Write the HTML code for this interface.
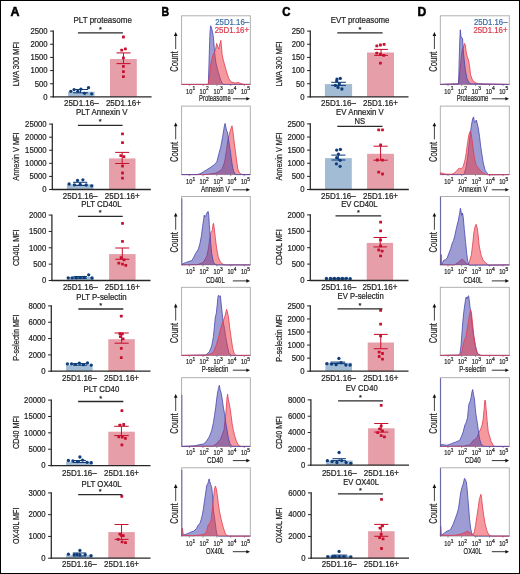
<!DOCTYPE html><html><head><meta charset="utf-8"><style>html,body{margin:0;padding:0;background:#fff;}svg{display:block;will-change:transform;}text{font-family:"Liberation Sans",sans-serif;stroke:currentColor;stroke-width:0.22px;}</style></head><body>
<svg width="520" height="574" viewBox="0 0 520 574">
<rect x="0" y="0" width="520" height="574" fill="#fff"/>
<line x1="50.10" y1="96.90" x2="53.30" y2="96.90" stroke="#222" stroke-width="1.0" />
<text x="47.60" y="99.70" font-size="8.6" text-anchor="end" fill="#1e1e1e" color="#1e1e1e" textLength="4.30" lengthAdjust="spacingAndGlyphs" >0</text>
<line x1="50.10" y1="83.74" x2="53.30" y2="83.74" stroke="#222" stroke-width="1.0" />
<text x="47.60" y="86.54" font-size="8.6" text-anchor="end" fill="#1e1e1e" color="#1e1e1e" textLength="12.90" lengthAdjust="spacingAndGlyphs" >500</text>
<line x1="50.10" y1="70.58" x2="53.30" y2="70.58" stroke="#222" stroke-width="1.0" />
<text x="47.60" y="73.38" font-size="8.6" text-anchor="end" fill="#1e1e1e" color="#1e1e1e" textLength="17.20" lengthAdjust="spacingAndGlyphs" >1000</text>
<line x1="50.10" y1="57.42" x2="53.30" y2="57.42" stroke="#222" stroke-width="1.0" />
<text x="47.60" y="60.22" font-size="8.6" text-anchor="end" fill="#1e1e1e" color="#1e1e1e" textLength="17.20" lengthAdjust="spacingAndGlyphs" >1500</text>
<line x1="50.10" y1="44.26" x2="53.30" y2="44.26" stroke="#222" stroke-width="1.0" />
<text x="47.60" y="47.06" font-size="8.6" text-anchor="end" fill="#1e1e1e" color="#1e1e1e" textLength="17.20" lengthAdjust="spacingAndGlyphs" >2000</text>
<line x1="50.10" y1="31.10" x2="53.30" y2="31.10" stroke="#222" stroke-width="1.0" />
<text x="47.60" y="33.90" font-size="8.6" text-anchor="end" fill="#1e1e1e" color="#1e1e1e" textLength="17.20" lengthAdjust="spacingAndGlyphs" >2500</text>
<rect x="68.10" y="91.70" width="26.50" height="5.20" fill="#a3bcd6"/>
<rect x="110.00" y="59.00" width="26.80" height="37.90" fill="#e69ea9"/>
<line x1="80.50" y1="89.50" x2="80.50" y2="92.80" stroke="#0f3d7a" stroke-width="1.0" />
<line x1="73.00" y1="89.50" x2="88.00" y2="89.50" stroke="#0f3d7a" stroke-width="1.05" />
<line x1="73.00" y1="92.80" x2="88.00" y2="92.80" stroke="#0f3d7a" stroke-width="1.05" />
<line x1="123.50" y1="52.90" x2="123.50" y2="63.60" stroke="#c8102e" stroke-width="1.0" />
<line x1="116.50" y1="52.90" x2="130.50" y2="52.90" stroke="#c8102e" stroke-width="1.05" />
<line x1="116.50" y1="63.60" x2="130.50" y2="63.60" stroke="#c8102e" stroke-width="1.05" />
<circle cx="70.80" cy="91.30" r="1.65" fill="#0f3d7a"/>
<circle cx="74.10" cy="89.60" r="1.65" fill="#0f3d7a"/>
<circle cx="77.80" cy="91.30" r="1.65" fill="#0f3d7a"/>
<circle cx="80.90" cy="89.10" r="1.65" fill="#0f3d7a"/>
<circle cx="84.60" cy="93.30" r="1.65" fill="#0f3d7a"/>
<circle cx="88.50" cy="87.70" r="1.65" fill="#0f3d7a"/>
<circle cx="91.70" cy="93.80" r="1.65" fill="#0f3d7a"/>
<rect x="122.00" y="35.60" width="2.8" height="2.8" rx="0.55" fill="#c8102e"/>
<rect x="120.30" y="48.70" width="2.8" height="2.8" rx="0.55" fill="#c8102e"/>
<rect x="124.00" y="47.50" width="2.8" height="2.8" rx="0.55" fill="#c8102e"/>
<rect x="122.00" y="56.40" width="2.8" height="2.8" rx="0.55" fill="#c8102e"/>
<rect x="122.00" y="64.90" width="2.8" height="2.8" rx="0.55" fill="#c8102e"/>
<rect x="122.00" y="70.30" width="2.8" height="2.8" rx="0.55" fill="#c8102e"/>
<rect x="122.00" y="75.20" width="2.8" height="2.8" rx="0.55" fill="#c8102e"/>
<line x1="53.30" y1="30.50" x2="53.30" y2="97.50" stroke="#262626" stroke-width="1.25" />
<line x1="52.70" y1="96.90" x2="151.60" y2="96.90" stroke="#262626" stroke-width="1.3" />
<line x1="77.90" y1="32.80" x2="122.90" y2="32.80" stroke="#2a2a2a" stroke-width="1.3" />
<text x="100.40" y="31.90" font-size="7.4" text-anchor="middle" fill="#1e1e1e" color="#1e1e1e" >*</text>
<text x="102.70" y="23.10" font-size="8.8" text-anchor="middle" fill="#1e1e1e" color="#1e1e1e" textLength="58.30" lengthAdjust="spacingAndGlyphs" >PLT proteasome</text>
<text x="81.35" y="105.70" font-size="9.0" text-anchor="middle" fill="#1e1e1e" color="#1e1e1e" textLength="34.80" lengthAdjust="spacingAndGlyphs" >25D1.16–</text>
<text x="123.40" y="105.70" font-size="9.0" text-anchor="middle" fill="#1e1e1e" color="#1e1e1e" textLength="35.00" lengthAdjust="spacingAndGlyphs" >25D1.16+</text>
<text x="19.10" y="64.00" font-size="9.3" text-anchor="middle" fill="#1e1e1e" color="#1e1e1e" textLength="44.40" lengthAdjust="spacingAndGlyphs" transform="rotate(-90 19.10 64.00)" >LWA 300 MFI</text>
<line x1="49.10" y1="189.50" x2="52.30" y2="189.50" stroke="#222" stroke-width="1.0" />
<text x="46.60" y="192.30" font-size="8.6" text-anchor="end" fill="#1e1e1e" color="#1e1e1e" textLength="4.30" lengthAdjust="spacingAndGlyphs" >0</text>
<line x1="49.10" y1="176.42" x2="52.30" y2="176.42" stroke="#222" stroke-width="1.0" />
<text x="46.60" y="179.22" font-size="8.6" text-anchor="end" fill="#1e1e1e" color="#1e1e1e" textLength="17.20" lengthAdjust="spacingAndGlyphs" >5000</text>
<line x1="49.10" y1="163.34" x2="52.30" y2="163.34" stroke="#222" stroke-width="1.0" />
<text x="46.60" y="166.14" font-size="8.6" text-anchor="end" fill="#1e1e1e" color="#1e1e1e" textLength="21.50" lengthAdjust="spacingAndGlyphs" >10000</text>
<line x1="49.10" y1="150.26" x2="52.30" y2="150.26" stroke="#222" stroke-width="1.0" />
<text x="46.60" y="153.06" font-size="8.6" text-anchor="end" fill="#1e1e1e" color="#1e1e1e" textLength="21.50" lengthAdjust="spacingAndGlyphs" >15000</text>
<line x1="49.10" y1="137.18" x2="52.30" y2="137.18" stroke="#222" stroke-width="1.0" />
<text x="46.60" y="139.98" font-size="8.6" text-anchor="end" fill="#1e1e1e" color="#1e1e1e" textLength="21.50" lengthAdjust="spacingAndGlyphs" >20000</text>
<line x1="49.10" y1="124.10" x2="52.30" y2="124.10" stroke="#222" stroke-width="1.0" />
<text x="46.60" y="126.90" font-size="8.6" text-anchor="end" fill="#1e1e1e" color="#1e1e1e" textLength="21.50" lengthAdjust="spacingAndGlyphs" >25000</text>
<rect x="66.90" y="184.30" width="26.60" height="5.20" fill="#a3bcd6"/>
<rect x="109.00" y="158.40" width="26.50" height="31.10" fill="#e69ea9"/>
<line x1="80.15" y1="182.30" x2="80.15" y2="185.50" stroke="#0f3d7a" stroke-width="1.0" />
<line x1="73.00" y1="182.30" x2="87.30" y2="182.30" stroke="#0f3d7a" stroke-width="1.05" />
<line x1="73.00" y1="185.50" x2="87.30" y2="185.50" stroke="#0f3d7a" stroke-width="1.05" />
<line x1="122.20" y1="152.40" x2="122.20" y2="163.50" stroke="#c8102e" stroke-width="1.0" />
<line x1="115.20" y1="152.40" x2="129.20" y2="152.40" stroke="#c8102e" stroke-width="1.05" />
<line x1="115.20" y1="163.50" x2="129.20" y2="163.50" stroke="#c8102e" stroke-width="1.05" />
<circle cx="69.10" cy="184.00" r="1.65" fill="#0f3d7a"/>
<circle cx="74.50" cy="184.80" r="1.65" fill="#0f3d7a"/>
<circle cx="77.50" cy="180.40" r="1.65" fill="#0f3d7a"/>
<circle cx="80.20" cy="184.50" r="1.65" fill="#0f3d7a"/>
<circle cx="82.90" cy="179.80" r="1.65" fill="#0f3d7a"/>
<circle cx="86.20" cy="185.00" r="1.65" fill="#0f3d7a"/>
<circle cx="91.70" cy="185.80" r="1.65" fill="#0f3d7a"/>
<rect x="121.10" y="132.40" width="2.8" height="2.8" rx="0.55" fill="#c8102e"/>
<rect x="121.10" y="141.30" width="2.8" height="2.8" rx="0.55" fill="#c8102e"/>
<rect x="119.40" y="154.20" width="2.8" height="2.8" rx="0.55" fill="#c8102e"/>
<rect x="122.50" y="155.30" width="2.8" height="2.8" rx="0.55" fill="#c8102e"/>
<rect x="121.10" y="164.60" width="2.8" height="2.8" rx="0.55" fill="#c8102e"/>
<rect x="121.10" y="171.60" width="2.8" height="2.8" rx="0.55" fill="#c8102e"/>
<rect x="121.10" y="176.70" width="2.8" height="2.8" rx="0.55" fill="#c8102e"/>
<line x1="52.30" y1="123.50" x2="52.30" y2="190.10" stroke="#262626" stroke-width="1.25" />
<line x1="51.70" y1="189.50" x2="150.80" y2="189.50" stroke="#262626" stroke-width="1.3" />
<line x1="77.90" y1="125.35" x2="122.60" y2="125.35" stroke="#2a2a2a" stroke-width="1.3" />
<text x="100.25" y="124.45" font-size="7.4" text-anchor="middle" fill="#1e1e1e" color="#1e1e1e" >*</text>
<text x="101.80" y="114.90" font-size="8.8" text-anchor="middle" fill="#1e1e1e" color="#1e1e1e" textLength="51.60" lengthAdjust="spacingAndGlyphs" >PLT Annexin V</text>
<text x="80.20" y="198.50" font-size="9.0" text-anchor="middle" fill="#1e1e1e" color="#1e1e1e" textLength="34.80" lengthAdjust="spacingAndGlyphs" >25D1.16–</text>
<text x="122.25" y="198.50" font-size="9.0" text-anchor="middle" fill="#1e1e1e" color="#1e1e1e" textLength="35.00" lengthAdjust="spacingAndGlyphs" >25D1.16+</text>
<text x="19.10" y="156.60" font-size="9.3" text-anchor="middle" fill="#1e1e1e" color="#1e1e1e" textLength="48.40" lengthAdjust="spacingAndGlyphs" transform="rotate(-90 19.10 156.60)" >Annexin V MFI</text>
<line x1="48.70" y1="280.50" x2="51.90" y2="280.50" stroke="#222" stroke-width="1.0" />
<text x="46.20" y="283.30" font-size="8.6" text-anchor="end" fill="#1e1e1e" color="#1e1e1e" textLength="4.30" lengthAdjust="spacingAndGlyphs" >0</text>
<line x1="48.70" y1="264.15" x2="51.90" y2="264.15" stroke="#222" stroke-width="1.0" />
<text x="46.20" y="266.95" font-size="8.6" text-anchor="end" fill="#1e1e1e" color="#1e1e1e" textLength="12.90" lengthAdjust="spacingAndGlyphs" >500</text>
<line x1="48.70" y1="247.80" x2="51.90" y2="247.80" stroke="#222" stroke-width="1.0" />
<text x="46.20" y="250.60" font-size="8.6" text-anchor="end" fill="#1e1e1e" color="#1e1e1e" textLength="17.20" lengthAdjust="spacingAndGlyphs" >1000</text>
<line x1="48.70" y1="231.45" x2="51.90" y2="231.45" stroke="#222" stroke-width="1.0" />
<text x="46.20" y="234.25" font-size="8.6" text-anchor="end" fill="#1e1e1e" color="#1e1e1e" textLength="17.20" lengthAdjust="spacingAndGlyphs" >1500</text>
<line x1="48.70" y1="215.10" x2="51.90" y2="215.10" stroke="#222" stroke-width="1.0" />
<text x="46.20" y="217.90" font-size="8.6" text-anchor="end" fill="#1e1e1e" color="#1e1e1e" textLength="17.20" lengthAdjust="spacingAndGlyphs" >2000</text>
<rect x="67.00" y="277.00" width="26.60" height="3.50" fill="#a3bcd6"/>
<rect x="109.10" y="254.10" width="26.50" height="26.40" fill="#e69ea9"/>
<line x1="80.25" y1="276.50" x2="80.25" y2="278.30" stroke="#0f3d7a" stroke-width="1.0" />
<line x1="73.50" y1="276.50" x2="87.00" y2="276.50" stroke="#0f3d7a" stroke-width="1.05" />
<line x1="73.50" y1="278.30" x2="87.00" y2="278.30" stroke="#0f3d7a" stroke-width="1.05" />
<line x1="122.30" y1="248.00" x2="122.30" y2="259.30" stroke="#c8102e" stroke-width="1.0" />
<line x1="115.30" y1="248.00" x2="129.30" y2="248.00" stroke="#c8102e" stroke-width="1.05" />
<line x1="115.30" y1="259.30" x2="129.30" y2="259.30" stroke="#c8102e" stroke-width="1.05" />
<circle cx="68.20" cy="277.80" r="1.65" fill="#0f3d7a"/>
<circle cx="72.20" cy="277.80" r="1.65" fill="#0f3d7a"/>
<circle cx="76.20" cy="277.80" r="1.65" fill="#0f3d7a"/>
<circle cx="80.20" cy="277.60" r="1.65" fill="#0f3d7a"/>
<circle cx="84.20" cy="277.50" r="1.65" fill="#0f3d7a"/>
<circle cx="88.70" cy="274.80" r="1.65" fill="#0f3d7a"/>
<circle cx="92.00" cy="278.00" r="1.65" fill="#0f3d7a"/>
<rect x="121.10" y="222.00" width="2.8" height="2.8" rx="0.55" fill="#c8102e"/>
<rect x="121.10" y="239.90" width="2.8" height="2.8" rx="0.55" fill="#c8102e"/>
<rect x="119.70" y="256.20" width="2.8" height="2.8" rx="0.55" fill="#c8102e"/>
<rect x="122.60" y="258.50" width="2.8" height="2.8" rx="0.55" fill="#c8102e"/>
<rect x="117.40" y="261.70" width="2.8" height="2.8" rx="0.55" fill="#c8102e"/>
<rect x="121.10" y="262.80" width="2.8" height="2.8" rx="0.55" fill="#c8102e"/>
<rect x="124.40" y="264.00" width="2.8" height="2.8" rx="0.55" fill="#c8102e"/>
<line x1="51.90" y1="214.50" x2="51.90" y2="281.10" stroke="#262626" stroke-width="1.25" />
<line x1="51.30" y1="280.50" x2="150.50" y2="280.50" stroke="#262626" stroke-width="1.3" />
<line x1="77.90" y1="216.35" x2="122.70" y2="216.35" stroke="#2a2a2a" stroke-width="1.3" />
<text x="100.30" y="215.45" font-size="7.4" text-anchor="middle" fill="#1e1e1e" color="#1e1e1e" >*</text>
<text x="101.40" y="207.20" font-size="8.8" text-anchor="middle" fill="#1e1e1e" color="#1e1e1e" textLength="40.40" lengthAdjust="spacingAndGlyphs" >PLT CD40L</text>
<text x="80.30" y="289.70" font-size="9.0" text-anchor="middle" fill="#1e1e1e" color="#1e1e1e" textLength="34.80" lengthAdjust="spacingAndGlyphs" >25D1.16–</text>
<text x="122.35" y="289.70" font-size="9.0" text-anchor="middle" fill="#1e1e1e" color="#1e1e1e" textLength="35.00" lengthAdjust="spacingAndGlyphs" >25D1.16+</text>
<text x="19.10" y="247.70" font-size="9.3" text-anchor="middle" fill="#1e1e1e" color="#1e1e1e" textLength="36.60" lengthAdjust="spacingAndGlyphs" transform="rotate(-90 19.10 247.70)" >CD40L MFI</text>
<line x1="48.10" y1="371.20" x2="51.30" y2="371.20" stroke="#222" stroke-width="1.0" />
<text x="45.60" y="374.00" font-size="8.6" text-anchor="end" fill="#1e1e1e" color="#1e1e1e" textLength="4.30" lengthAdjust="spacingAndGlyphs" >0</text>
<line x1="48.10" y1="354.88" x2="51.30" y2="354.88" stroke="#222" stroke-width="1.0" />
<text x="45.60" y="357.68" font-size="8.6" text-anchor="end" fill="#1e1e1e" color="#1e1e1e" textLength="17.20" lengthAdjust="spacingAndGlyphs" >2000</text>
<line x1="48.10" y1="338.55" x2="51.30" y2="338.55" stroke="#222" stroke-width="1.0" />
<text x="45.60" y="341.35" font-size="8.6" text-anchor="end" fill="#1e1e1e" color="#1e1e1e" textLength="17.20" lengthAdjust="spacingAndGlyphs" >4000</text>
<line x1="48.10" y1="322.22" x2="51.30" y2="322.22" stroke="#222" stroke-width="1.0" />
<text x="45.60" y="325.02" font-size="8.6" text-anchor="end" fill="#1e1e1e" color="#1e1e1e" textLength="17.20" lengthAdjust="spacingAndGlyphs" >6000</text>
<line x1="48.10" y1="305.90" x2="51.30" y2="305.90" stroke="#222" stroke-width="1.0" />
<text x="45.60" y="308.70" font-size="8.6" text-anchor="end" fill="#1e1e1e" color="#1e1e1e" textLength="17.20" lengthAdjust="spacingAndGlyphs" >8000</text>
<rect x="66.10" y="364.80" width="26.60" height="6.40" fill="#a3bcd6"/>
<rect x="108.30" y="339.20" width="26.50" height="32.00" fill="#e69ea9"/>
<line x1="80.00" y1="363.60" x2="80.00" y2="365.20" stroke="#0f3d7a" stroke-width="1.0" />
<line x1="73.00" y1="363.60" x2="87.00" y2="363.60" stroke="#0f3d7a" stroke-width="1.05" />
<line x1="73.00" y1="365.20" x2="87.00" y2="365.20" stroke="#0f3d7a" stroke-width="1.05" />
<line x1="121.65" y1="333.00" x2="121.65" y2="343.20" stroke="#c8102e" stroke-width="1.0" />
<line x1="114.60" y1="333.00" x2="128.70" y2="333.00" stroke="#c8102e" stroke-width="1.05" />
<line x1="114.60" y1="343.20" x2="128.70" y2="343.20" stroke="#c8102e" stroke-width="1.05" />
<circle cx="67.40" cy="363.80" r="1.65" fill="#0f3d7a"/>
<circle cx="71.50" cy="363.80" r="1.65" fill="#0f3d7a"/>
<circle cx="75.30" cy="364.30" r="1.65" fill="#0f3d7a"/>
<circle cx="79.30" cy="363.10" r="1.65" fill="#0f3d7a"/>
<circle cx="83.40" cy="364.70" r="1.65" fill="#0f3d7a"/>
<circle cx="87.50" cy="363.00" r="1.65" fill="#0f3d7a"/>
<circle cx="91.20" cy="365.10" r="1.65" fill="#0f3d7a"/>
<rect x="119.90" y="314.70" width="2.8" height="2.8" rx="0.55" fill="#c8102e"/>
<rect x="118.50" y="332.20" width="2.8" height="2.8" rx="0.55" fill="#c8102e"/>
<rect x="120.90" y="332.50" width="2.8" height="2.8" rx="0.55" fill="#c8102e"/>
<rect x="119.00" y="335.30" width="2.8" height="2.8" rx="0.55" fill="#c8102e"/>
<rect x="121.70" y="337.40" width="2.8" height="2.8" rx="0.55" fill="#c8102e"/>
<rect x="119.90" y="347.00" width="2.8" height="2.8" rx="0.55" fill="#c8102e"/>
<rect x="119.90" y="356.30" width="2.8" height="2.8" rx="0.55" fill="#c8102e"/>
<line x1="51.30" y1="305.30" x2="51.30" y2="371.80" stroke="#262626" stroke-width="1.25" />
<line x1="50.70" y1="371.20" x2="150.50" y2="371.20" stroke="#262626" stroke-width="1.3" />
<line x1="78.30" y1="309.00" x2="123.30" y2="309.00" stroke="#2a2a2a" stroke-width="1.3" />
<text x="100.80" y="308.10" font-size="7.4" text-anchor="middle" fill="#1e1e1e" color="#1e1e1e" >*</text>
<text x="101.40" y="299.70" font-size="8.8" text-anchor="middle" fill="#1e1e1e" color="#1e1e1e" textLength="50.30" lengthAdjust="spacingAndGlyphs" >PLT P-selectin</text>
<text x="79.40" y="381.10" font-size="9.0" text-anchor="middle" fill="#1e1e1e" color="#1e1e1e" textLength="34.80" lengthAdjust="spacingAndGlyphs" >25D1.16–</text>
<text x="121.55" y="381.10" font-size="9.0" text-anchor="middle" fill="#1e1e1e" color="#1e1e1e" textLength="35.00" lengthAdjust="spacingAndGlyphs" >25D1.16+</text>
<text x="19.10" y="337.70" font-size="9.3" text-anchor="middle" fill="#1e1e1e" color="#1e1e1e" textLength="46.20" lengthAdjust="spacingAndGlyphs" transform="rotate(-90 19.10 337.70)" >P-selectin MFI</text>
<line x1="48.10" y1="465.60" x2="51.30" y2="465.60" stroke="#222" stroke-width="1.0" />
<text x="45.60" y="468.40" font-size="8.6" text-anchor="end" fill="#1e1e1e" color="#1e1e1e" textLength="4.30" lengthAdjust="spacingAndGlyphs" >0</text>
<line x1="48.10" y1="449.23" x2="51.30" y2="449.23" stroke="#222" stroke-width="1.0" />
<text x="45.60" y="452.03" font-size="8.6" text-anchor="end" fill="#1e1e1e" color="#1e1e1e" textLength="17.20" lengthAdjust="spacingAndGlyphs" >5000</text>
<line x1="48.10" y1="432.85" x2="51.30" y2="432.85" stroke="#222" stroke-width="1.0" />
<text x="45.60" y="435.65" font-size="8.6" text-anchor="end" fill="#1e1e1e" color="#1e1e1e" textLength="21.50" lengthAdjust="spacingAndGlyphs" >10000</text>
<line x1="48.10" y1="416.48" x2="51.30" y2="416.48" stroke="#222" stroke-width="1.0" />
<text x="45.60" y="419.28" font-size="8.6" text-anchor="end" fill="#1e1e1e" color="#1e1e1e" textLength="21.50" lengthAdjust="spacingAndGlyphs" >15000</text>
<line x1="48.10" y1="400.10" x2="51.30" y2="400.10" stroke="#222" stroke-width="1.0" />
<text x="45.60" y="402.90" font-size="8.6" text-anchor="end" fill="#1e1e1e" color="#1e1e1e" textLength="21.50" lengthAdjust="spacingAndGlyphs" >20000</text>
<rect x="66.10" y="461.70" width="26.60" height="3.90" fill="#a3bcd6"/>
<rect x="108.30" y="431.70" width="26.50" height="33.90" fill="#e69ea9"/>
<line x1="79.35" y1="460.50" x2="79.35" y2="462.50" stroke="#0f3d7a" stroke-width="1.0" />
<line x1="72.80" y1="460.50" x2="85.90" y2="460.50" stroke="#0f3d7a" stroke-width="1.05" />
<line x1="72.80" y1="462.50" x2="85.90" y2="462.50" stroke="#0f3d7a" stroke-width="1.05" />
<line x1="121.45" y1="426.30" x2="121.45" y2="435.60" stroke="#c8102e" stroke-width="1.0" />
<line x1="114.20" y1="426.30" x2="128.70" y2="426.30" stroke="#c8102e" stroke-width="1.05" />
<line x1="114.20" y1="435.60" x2="128.70" y2="435.60" stroke="#c8102e" stroke-width="1.05" />
<circle cx="68.40" cy="460.50" r="1.65" fill="#0f3d7a"/>
<circle cx="72.90" cy="460.90" r="1.65" fill="#0f3d7a"/>
<circle cx="77.50" cy="461.70" r="1.65" fill="#0f3d7a"/>
<circle cx="79.90" cy="457.00" r="1.65" fill="#0f3d7a"/>
<circle cx="82.60" cy="460.10" r="1.65" fill="#0f3d7a"/>
<circle cx="87.10" cy="462.30" r="1.65" fill="#0f3d7a"/>
<circle cx="91.20" cy="462.70" r="1.65" fill="#0f3d7a"/>
<rect x="120.50" y="409.30" width="2.8" height="2.8" rx="0.55" fill="#c8102e"/>
<rect x="118.50" y="423.70" width="2.8" height="2.8" rx="0.55" fill="#c8102e"/>
<rect x="122.30" y="423.10" width="2.8" height="2.8" rx="0.55" fill="#c8102e"/>
<rect x="117.40" y="435.40" width="2.8" height="2.8" rx="0.55" fill="#c8102e"/>
<rect x="120.90" y="435.70" width="2.8" height="2.8" rx="0.55" fill="#c8102e"/>
<rect x="124.00" y="436.90" width="2.8" height="2.8" rx="0.55" fill="#c8102e"/>
<rect x="120.50" y="443.50" width="2.8" height="2.8" rx="0.55" fill="#c8102e"/>
<line x1="51.30" y1="399.50" x2="51.30" y2="466.20" stroke="#262626" stroke-width="1.25" />
<line x1="50.70" y1="465.60" x2="150.50" y2="465.60" stroke="#262626" stroke-width="1.3" />
<line x1="78.10" y1="401.50" x2="123.35" y2="401.50" stroke="#2a2a2a" stroke-width="1.3" />
<text x="100.72" y="400.60" font-size="7.4" text-anchor="middle" fill="#1e1e1e" color="#1e1e1e" >*</text>
<text x="101.40" y="391.60" font-size="8.8" text-anchor="middle" fill="#1e1e1e" color="#1e1e1e" textLength="35.80" lengthAdjust="spacingAndGlyphs" >PLT CD40</text>
<text x="79.40" y="476.40" font-size="9.0" text-anchor="middle" fill="#1e1e1e" color="#1e1e1e" textLength="34.80" lengthAdjust="spacingAndGlyphs" >25D1.16–</text>
<text x="121.55" y="476.40" font-size="9.0" text-anchor="middle" fill="#1e1e1e" color="#1e1e1e" textLength="35.00" lengthAdjust="spacingAndGlyphs" >25D1.16+</text>
<text x="19.10" y="432.50" font-size="9.3" text-anchor="middle" fill="#1e1e1e" color="#1e1e1e" textLength="33.00" lengthAdjust="spacingAndGlyphs" transform="rotate(-90 19.10 432.50)" >CD40 MFI</text>
<line x1="48.10" y1="558.20" x2="51.30" y2="558.20" stroke="#222" stroke-width="1.0" />
<text x="45.60" y="561.00" font-size="8.6" text-anchor="end" fill="#1e1e1e" color="#1e1e1e" textLength="4.30" lengthAdjust="spacingAndGlyphs" >0</text>
<line x1="48.10" y1="536.43" x2="51.30" y2="536.43" stroke="#222" stroke-width="1.0" />
<text x="45.60" y="539.23" font-size="8.6" text-anchor="end" fill="#1e1e1e" color="#1e1e1e" textLength="17.20" lengthAdjust="spacingAndGlyphs" >1000</text>
<line x1="48.10" y1="514.67" x2="51.30" y2="514.67" stroke="#222" stroke-width="1.0" />
<text x="45.60" y="517.47" font-size="8.6" text-anchor="end" fill="#1e1e1e" color="#1e1e1e" textLength="17.20" lengthAdjust="spacingAndGlyphs" >2000</text>
<line x1="48.10" y1="492.90" x2="51.30" y2="492.90" stroke="#222" stroke-width="1.0" />
<text x="45.60" y="495.70" font-size="8.6" text-anchor="end" fill="#1e1e1e" color="#1e1e1e" textLength="17.20" lengthAdjust="spacingAndGlyphs" >3000</text>
<rect x="66.10" y="555.30" width="26.60" height="2.90" fill="#a3bcd6"/>
<rect x="108.30" y="532.10" width="26.50" height="26.10" fill="#e69ea9"/>
<line x1="79.50" y1="553.00" x2="79.50" y2="556.00" stroke="#0f3d7a" stroke-width="1.0" />
<line x1="72.80" y1="553.00" x2="86.20" y2="553.00" stroke="#0f3d7a" stroke-width="1.05" />
<line x1="72.80" y1="556.00" x2="86.20" y2="556.00" stroke="#0f3d7a" stroke-width="1.05" />
<line x1="121.55" y1="524.50" x2="121.55" y2="539.40" stroke="#c8102e" stroke-width="1.0" />
<line x1="114.60" y1="524.50" x2="128.50" y2="524.50" stroke="#c8102e" stroke-width="1.05" />
<line x1="114.60" y1="539.40" x2="128.50" y2="539.40" stroke="#c8102e" stroke-width="1.05" />
<circle cx="68.40" cy="554.20" r="1.65" fill="#0f3d7a"/>
<circle cx="74.20" cy="554.70" r="1.65" fill="#0f3d7a"/>
<circle cx="79.90" cy="550.40" r="1.65" fill="#0f3d7a"/>
<circle cx="79.90" cy="555.00" r="1.65" fill="#0f3d7a"/>
<circle cx="85.20" cy="554.60" r="1.65" fill="#0f3d7a"/>
<circle cx="91.00" cy="555.70" r="1.65" fill="#0f3d7a"/>
<circle cx="77.00" cy="554.50" r="1.65" fill="#0f3d7a"/>
<rect x="120.40" y="494.90" width="2.8" height="2.8" rx="0.55" fill="#c8102e"/>
<rect x="118.50" y="532.70" width="2.8" height="2.8" rx="0.55" fill="#c8102e"/>
<rect x="121.90" y="534.30" width="2.8" height="2.8" rx="0.55" fill="#c8102e"/>
<rect x="116.80" y="538.00" width="2.8" height="2.8" rx="0.55" fill="#c8102e"/>
<rect x="120.70" y="540.40" width="2.8" height="2.8" rx="0.55" fill="#c8102e"/>
<rect x="124.10" y="541.30" width="2.8" height="2.8" rx="0.55" fill="#c8102e"/>
<rect x="120.10" y="534.10" width="2.8" height="2.8" rx="0.55" fill="#c8102e"/>
<line x1="51.30" y1="492.30" x2="51.30" y2="558.80" stroke="#262626" stroke-width="1.25" />
<line x1="50.70" y1="558.20" x2="150.50" y2="558.20" stroke="#262626" stroke-width="1.3" />
<line x1="78.20" y1="494.60" x2="122.30" y2="494.60" stroke="#2a2a2a" stroke-width="1.3" />
<text x="100.25" y="493.70" font-size="7.4" text-anchor="middle" fill="#1e1e1e" color="#1e1e1e" >*</text>
<text x="101.60" y="487.20" font-size="8.8" text-anchor="middle" fill="#1e1e1e" color="#1e1e1e" textLength="40.00" lengthAdjust="spacingAndGlyphs" >PLT OX40L</text>
<text x="79.40" y="566.90" font-size="9.0" text-anchor="middle" fill="#1e1e1e" color="#1e1e1e" textLength="34.80" lengthAdjust="spacingAndGlyphs" >25D1.16–</text>
<text x="121.55" y="566.90" font-size="9.0" text-anchor="middle" fill="#1e1e1e" color="#1e1e1e" textLength="35.00" lengthAdjust="spacingAndGlyphs" >25D1.16+</text>
<text x="19.10" y="525.75" font-size="9.3" text-anchor="middle" fill="#1e1e1e" color="#1e1e1e" textLength="36.50" lengthAdjust="spacingAndGlyphs" transform="rotate(-90 19.10 525.75)" >OX40L MFI</text>
<line x1="307.10" y1="96.90" x2="310.30" y2="96.90" stroke="#222" stroke-width="1.0" />
<text x="304.60" y="99.70" font-size="8.6" text-anchor="end" fill="#1e1e1e" color="#1e1e1e" textLength="4.30" lengthAdjust="spacingAndGlyphs" >0</text>
<line x1="307.10" y1="83.74" x2="310.30" y2="83.74" stroke="#222" stroke-width="1.0" />
<text x="304.60" y="86.54" font-size="8.6" text-anchor="end" fill="#1e1e1e" color="#1e1e1e" textLength="8.60" lengthAdjust="spacingAndGlyphs" >50</text>
<line x1="307.10" y1="70.58" x2="310.30" y2="70.58" stroke="#222" stroke-width="1.0" />
<text x="304.60" y="73.38" font-size="8.6" text-anchor="end" fill="#1e1e1e" color="#1e1e1e" textLength="12.90" lengthAdjust="spacingAndGlyphs" >100</text>
<line x1="307.10" y1="57.42" x2="310.30" y2="57.42" stroke="#222" stroke-width="1.0" />
<text x="304.60" y="60.22" font-size="8.6" text-anchor="end" fill="#1e1e1e" color="#1e1e1e" textLength="12.90" lengthAdjust="spacingAndGlyphs" >150</text>
<line x1="307.10" y1="44.26" x2="310.30" y2="44.26" stroke="#222" stroke-width="1.0" />
<text x="304.60" y="47.06" font-size="8.6" text-anchor="end" fill="#1e1e1e" color="#1e1e1e" textLength="12.90" lengthAdjust="spacingAndGlyphs" >200</text>
<line x1="307.10" y1="31.10" x2="310.30" y2="31.10" stroke="#222" stroke-width="1.0" />
<text x="304.60" y="33.90" font-size="8.6" text-anchor="end" fill="#1e1e1e" color="#1e1e1e" textLength="12.90" lengthAdjust="spacingAndGlyphs" >250</text>
<rect x="324.90" y="84.10" width="27.20" height="12.80" fill="#a3bcd6"/>
<rect x="367.00" y="52.50" width="27.00" height="44.40" fill="#e69ea9"/>
<line x1="338.55" y1="82.30" x2="338.55" y2="85.40" stroke="#0f3d7a" stroke-width="1.0" />
<line x1="331.20" y1="82.30" x2="345.90" y2="82.30" stroke="#0f3d7a" stroke-width="1.05" />
<line x1="331.20" y1="85.40" x2="345.90" y2="85.40" stroke="#0f3d7a" stroke-width="1.05" />
<line x1="381.05" y1="49.40" x2="381.05" y2="55.40" stroke="#c8102e" stroke-width="1.0" />
<line x1="374.20" y1="49.40" x2="387.90" y2="49.40" stroke="#c8102e" stroke-width="1.05" />
<line x1="374.20" y1="55.40" x2="387.90" y2="55.40" stroke="#c8102e" stroke-width="1.05" />
<circle cx="337.00" cy="79.10" r="1.65" fill="#0f3d7a"/>
<circle cx="340.30" cy="78.40" r="1.65" fill="#0f3d7a"/>
<circle cx="336.70" cy="81.00" r="1.65" fill="#0f3d7a"/>
<circle cx="339.30" cy="83.80" r="1.65" fill="#0f3d7a"/>
<circle cx="335.40" cy="85.40" r="1.65" fill="#0f3d7a"/>
<circle cx="338.00" cy="87.40" r="1.65" fill="#0f3d7a"/>
<circle cx="341.90" cy="89.00" r="1.65" fill="#0f3d7a"/>
<rect x="375.40" y="44.40" width="2.8" height="2.8" rx="0.55" fill="#c8102e"/>
<rect x="379.00" y="43.60" width="2.8" height="2.8" rx="0.55" fill="#c8102e"/>
<rect x="382.70" y="42.90" width="2.8" height="2.8" rx="0.55" fill="#c8102e"/>
<rect x="375.40" y="51.70" width="2.8" height="2.8" rx="0.55" fill="#c8102e"/>
<rect x="379.00" y="52.80" width="2.8" height="2.8" rx="0.55" fill="#c8102e"/>
<rect x="382.30" y="54.00" width="2.8" height="2.8" rx="0.55" fill="#c8102e"/>
<rect x="379.00" y="61.70" width="2.8" height="2.8" rx="0.55" fill="#c8102e"/>
<line x1="310.30" y1="30.50" x2="310.30" y2="97.50" stroke="#262626" stroke-width="1.25" />
<line x1="309.70" y1="96.90" x2="408.50" y2="96.90" stroke="#262626" stroke-width="1.3" />
<line x1="337.30" y1="32.95" x2="382.60" y2="32.95" stroke="#2a2a2a" stroke-width="1.3" />
<text x="359.95" y="32.05" font-size="7.4" text-anchor="middle" fill="#1e1e1e" color="#1e1e1e" >*</text>
<text x="360.10" y="22.90" font-size="8.8" text-anchor="middle" fill="#1e1e1e" color="#1e1e1e" textLength="58.80" lengthAdjust="spacingAndGlyphs" >EVT proteasome</text>
<text x="338.50" y="105.70" font-size="9.0" text-anchor="middle" fill="#1e1e1e" color="#1e1e1e" textLength="34.80" lengthAdjust="spacingAndGlyphs" >25D1.16–</text>
<text x="380.50" y="105.70" font-size="9.0" text-anchor="middle" fill="#1e1e1e" color="#1e1e1e" textLength="35.00" lengthAdjust="spacingAndGlyphs" >25D1.16+</text>
<text x="282.00" y="63.90" font-size="9.3" text-anchor="middle" fill="#1e1e1e" color="#1e1e1e" textLength="45.20" lengthAdjust="spacingAndGlyphs" transform="rotate(-90 282.00 63.90)" >LWA 300 MFI</text>
<line x1="307.10" y1="189.50" x2="310.30" y2="189.50" stroke="#222" stroke-width="1.0" />
<text x="304.60" y="192.30" font-size="8.6" text-anchor="end" fill="#1e1e1e" color="#1e1e1e" textLength="4.30" lengthAdjust="spacingAndGlyphs" >0</text>
<line x1="307.10" y1="176.38" x2="310.30" y2="176.38" stroke="#222" stroke-width="1.0" />
<text x="304.60" y="179.18" font-size="8.6" text-anchor="end" fill="#1e1e1e" color="#1e1e1e" textLength="12.90" lengthAdjust="spacingAndGlyphs" >500</text>
<line x1="307.10" y1="163.26" x2="310.30" y2="163.26" stroke="#222" stroke-width="1.0" />
<text x="304.60" y="166.06" font-size="8.6" text-anchor="end" fill="#1e1e1e" color="#1e1e1e" textLength="17.20" lengthAdjust="spacingAndGlyphs" >1000</text>
<line x1="307.10" y1="150.14" x2="310.30" y2="150.14" stroke="#222" stroke-width="1.0" />
<text x="304.60" y="152.94" font-size="8.6" text-anchor="end" fill="#1e1e1e" color="#1e1e1e" textLength="17.20" lengthAdjust="spacingAndGlyphs" >1500</text>
<line x1="307.10" y1="137.02" x2="310.30" y2="137.02" stroke="#222" stroke-width="1.0" />
<text x="304.60" y="139.82" font-size="8.6" text-anchor="end" fill="#1e1e1e" color="#1e1e1e" textLength="17.20" lengthAdjust="spacingAndGlyphs" >2000</text>
<line x1="307.10" y1="123.90" x2="310.30" y2="123.90" stroke="#222" stroke-width="1.0" />
<text x="304.60" y="126.70" font-size="8.6" text-anchor="end" fill="#1e1e1e" color="#1e1e1e" textLength="17.20" lengthAdjust="spacingAndGlyphs" >2500</text>
<rect x="325.00" y="158.10" width="26.80" height="31.40" fill="#a3bcd6"/>
<rect x="367.10" y="153.80" width="26.90" height="35.70" fill="#e69ea9"/>
<line x1="338.40" y1="155.10" x2="338.40" y2="160.00" stroke="#0f3d7a" stroke-width="1.0" />
<line x1="331.40" y1="155.10" x2="345.40" y2="155.10" stroke="#0f3d7a" stroke-width="1.05" />
<line x1="331.40" y1="160.00" x2="345.40" y2="160.00" stroke="#0f3d7a" stroke-width="1.05" />
<line x1="380.60" y1="146.20" x2="380.60" y2="160.20" stroke="#c8102e" stroke-width="1.0" />
<line x1="373.50" y1="146.20" x2="387.70" y2="146.20" stroke="#c8102e" stroke-width="1.05" />
<line x1="373.50" y1="160.20" x2="387.70" y2="160.20" stroke="#c8102e" stroke-width="1.05" />
<circle cx="336.70" cy="150.10" r="1.65" fill="#0f3d7a"/>
<circle cx="340.40" cy="149.40" r="1.65" fill="#0f3d7a"/>
<circle cx="338.40" cy="154.10" r="1.65" fill="#0f3d7a"/>
<circle cx="336.70" cy="157.70" r="1.65" fill="#0f3d7a"/>
<circle cx="340.10" cy="160.30" r="1.65" fill="#0f3d7a"/>
<circle cx="336.40" cy="163.80" r="1.65" fill="#0f3d7a"/>
<circle cx="340.10" cy="166.30" r="1.65" fill="#0f3d7a"/>
<rect x="377.30" y="128.40" width="2.8" height="2.8" rx="0.55" fill="#c8102e"/>
<rect x="381.10" y="128.40" width="2.8" height="2.8" rx="0.55" fill="#c8102e"/>
<rect x="379.20" y="143.40" width="2.8" height="2.8" rx="0.55" fill="#c8102e"/>
<rect x="375.90" y="158.60" width="2.8" height="2.8" rx="0.55" fill="#c8102e"/>
<rect x="381.10" y="158.80" width="2.8" height="2.8" rx="0.55" fill="#c8102e"/>
<rect x="377.30" y="170.70" width="2.8" height="2.8" rx="0.55" fill="#c8102e"/>
<rect x="381.10" y="172.60" width="2.8" height="2.8" rx="0.55" fill="#c8102e"/>
<line x1="310.30" y1="123.30" x2="310.30" y2="190.10" stroke="#262626" stroke-width="1.25" />
<line x1="309.70" y1="189.50" x2="408.80" y2="189.50" stroke="#262626" stroke-width="1.3" />
<line x1="337.30" y1="126.35" x2="382.50" y2="126.35" stroke="#2a2a2a" stroke-width="1.3" />
<text x="359.90" y="124.15" font-size="8.8" text-anchor="middle" fill="#1e1e1e" color="#1e1e1e" textLength="10.60" lengthAdjust="spacingAndGlyphs" >NS</text>
<text x="359.90" y="114.80" font-size="8.8" text-anchor="middle" fill="#1e1e1e" color="#1e1e1e" textLength="47.80" lengthAdjust="spacingAndGlyphs" >EV Annexin V</text>
<text x="338.40" y="198.50" font-size="9.0" text-anchor="middle" fill="#1e1e1e" color="#1e1e1e" textLength="34.80" lengthAdjust="spacingAndGlyphs" >25D1.16–</text>
<text x="380.55" y="198.50" font-size="9.0" text-anchor="middle" fill="#1e1e1e" color="#1e1e1e" textLength="35.00" lengthAdjust="spacingAndGlyphs" >25D1.16+</text>
<text x="282.00" y="156.55" font-size="9.3" text-anchor="middle" fill="#1e1e1e" color="#1e1e1e" textLength="48.10" lengthAdjust="spacingAndGlyphs" transform="rotate(-90 282.00 156.55)" >Annexin V MFI</text>
<line x1="307.10" y1="280.50" x2="310.30" y2="280.50" stroke="#222" stroke-width="1.0" />
<text x="304.60" y="283.30" font-size="8.6" text-anchor="end" fill="#1e1e1e" color="#1e1e1e" textLength="4.30" lengthAdjust="spacingAndGlyphs" >0</text>
<line x1="307.10" y1="264.10" x2="310.30" y2="264.10" stroke="#222" stroke-width="1.0" />
<text x="304.60" y="266.90" font-size="8.6" text-anchor="end" fill="#1e1e1e" color="#1e1e1e" textLength="12.90" lengthAdjust="spacingAndGlyphs" >500</text>
<line x1="307.10" y1="247.70" x2="310.30" y2="247.70" stroke="#222" stroke-width="1.0" />
<text x="304.60" y="250.50" font-size="8.6" text-anchor="end" fill="#1e1e1e" color="#1e1e1e" textLength="17.20" lengthAdjust="spacingAndGlyphs" >1000</text>
<line x1="307.10" y1="231.30" x2="310.30" y2="231.30" stroke="#222" stroke-width="1.0" />
<text x="304.60" y="234.10" font-size="8.6" text-anchor="end" fill="#1e1e1e" color="#1e1e1e" textLength="17.20" lengthAdjust="spacingAndGlyphs" >1500</text>
<line x1="307.10" y1="214.90" x2="310.30" y2="214.90" stroke="#222" stroke-width="1.0" />
<text x="304.60" y="217.70" font-size="8.6" text-anchor="end" fill="#1e1e1e" color="#1e1e1e" textLength="17.20" lengthAdjust="spacingAndGlyphs" >2000</text>
<rect x="325.50" y="278.80" width="26.50" height="1.70" fill="#a3bcd6"/>
<rect x="366.70" y="242.90" width="26.40" height="37.60" fill="#e69ea9"/>
<line x1="338.50" y1="278.20" x2="338.50" y2="279.00" stroke="#0f3d7a" stroke-width="1.0" />
<line x1="331.00" y1="278.20" x2="346.00" y2="278.20" stroke="#0f3d7a" stroke-width="1.05" />
<line x1="331.00" y1="279.00" x2="346.00" y2="279.00" stroke="#0f3d7a" stroke-width="1.05" />
<line x1="380.20" y1="237.50" x2="380.20" y2="246.90" stroke="#c8102e" stroke-width="1.0" />
<line x1="373.50" y1="237.50" x2="386.90" y2="237.50" stroke="#c8102e" stroke-width="1.05" />
<line x1="373.50" y1="246.90" x2="386.90" y2="246.90" stroke="#c8102e" stroke-width="1.05" />
<circle cx="326.40" cy="278.50" r="1.65" fill="#0f3d7a"/>
<circle cx="330.40" cy="278.50" r="1.65" fill="#0f3d7a"/>
<circle cx="334.40" cy="278.50" r="1.65" fill="#0f3d7a"/>
<circle cx="338.40" cy="278.50" r="1.65" fill="#0f3d7a"/>
<circle cx="342.40" cy="278.50" r="1.65" fill="#0f3d7a"/>
<circle cx="346.40" cy="278.30" r="1.65" fill="#0f3d7a"/>
<circle cx="350.20" cy="278.60" r="1.65" fill="#0f3d7a"/>
<rect x="379.20" y="220.70" width="2.8" height="2.8" rx="0.55" fill="#c8102e"/>
<rect x="379.20" y="229.40" width="2.8" height="2.8" rx="0.55" fill="#c8102e"/>
<rect x="379.20" y="238.60" width="2.8" height="2.8" rx="0.55" fill="#c8102e"/>
<rect x="379.20" y="244.40" width="2.8" height="2.8" rx="0.55" fill="#c8102e"/>
<rect x="377.30" y="248.60" width="2.8" height="2.8" rx="0.55" fill="#c8102e"/>
<rect x="380.70" y="249.80" width="2.8" height="2.8" rx="0.55" fill="#c8102e"/>
<rect x="379.20" y="254.40" width="2.8" height="2.8" rx="0.55" fill="#c8102e"/>
<line x1="310.30" y1="214.30" x2="310.30" y2="281.10" stroke="#262626" stroke-width="1.25" />
<line x1="309.70" y1="280.50" x2="408.50" y2="280.50" stroke="#262626" stroke-width="1.3" />
<line x1="335.50" y1="215.95" x2="381.20" y2="215.95" stroke="#2a2a2a" stroke-width="1.3" />
<text x="358.35" y="215.05" font-size="7.4" text-anchor="middle" fill="#1e1e1e" color="#1e1e1e" >*</text>
<text x="359.40" y="206.60" font-size="8.8" text-anchor="middle" fill="#1e1e1e" color="#1e1e1e" textLength="36.40" lengthAdjust="spacingAndGlyphs" >EV CD40L</text>
<text x="338.75" y="289.70" font-size="9.0" text-anchor="middle" fill="#1e1e1e" color="#1e1e1e" textLength="34.80" lengthAdjust="spacingAndGlyphs" >25D1.16–</text>
<text x="379.90" y="289.70" font-size="9.0" text-anchor="middle" fill="#1e1e1e" color="#1e1e1e" textLength="35.00" lengthAdjust="spacingAndGlyphs" >25D1.16+</text>
<text x="282.00" y="247.20" font-size="9.3" text-anchor="middle" fill="#1e1e1e" color="#1e1e1e" textLength="35.60" lengthAdjust="spacingAndGlyphs" transform="rotate(-90 282.00 247.20)" >CD40L MFI</text>
<line x1="307.10" y1="371.20" x2="310.30" y2="371.20" stroke="#222" stroke-width="1.0" />
<text x="304.60" y="374.00" font-size="8.6" text-anchor="end" fill="#1e1e1e" color="#1e1e1e" textLength="4.30" lengthAdjust="spacingAndGlyphs" >0</text>
<line x1="307.10" y1="358.14" x2="310.30" y2="358.14" stroke="#222" stroke-width="1.0" />
<text x="304.60" y="360.94" font-size="8.6" text-anchor="end" fill="#1e1e1e" color="#1e1e1e" textLength="12.90" lengthAdjust="spacingAndGlyphs" >500</text>
<line x1="307.10" y1="345.08" x2="310.30" y2="345.08" stroke="#222" stroke-width="1.0" />
<text x="304.60" y="347.88" font-size="8.6" text-anchor="end" fill="#1e1e1e" color="#1e1e1e" textLength="17.20" lengthAdjust="spacingAndGlyphs" >1000</text>
<line x1="307.10" y1="332.02" x2="310.30" y2="332.02" stroke="#222" stroke-width="1.0" />
<text x="304.60" y="334.82" font-size="8.6" text-anchor="end" fill="#1e1e1e" color="#1e1e1e" textLength="17.20" lengthAdjust="spacingAndGlyphs" >1500</text>
<line x1="307.10" y1="318.96" x2="310.30" y2="318.96" stroke="#222" stroke-width="1.0" />
<text x="304.60" y="321.76" font-size="8.6" text-anchor="end" fill="#1e1e1e" color="#1e1e1e" textLength="17.20" lengthAdjust="spacingAndGlyphs" >2000</text>
<line x1="307.10" y1="305.90" x2="310.30" y2="305.90" stroke="#222" stroke-width="1.0" />
<text x="304.60" y="308.70" font-size="8.6" text-anchor="end" fill="#1e1e1e" color="#1e1e1e" textLength="17.20" lengthAdjust="spacingAndGlyphs" >2500</text>
<rect x="325.40" y="362.80" width="26.60" height="8.40" fill="#a3bcd6"/>
<rect x="367.70" y="342.50" width="26.30" height="28.70" fill="#e69ea9"/>
<line x1="337.85" y1="362.10" x2="337.85" y2="363.60" stroke="#0f3d7a" stroke-width="1.0" />
<line x1="330.50" y1="362.10" x2="345.20" y2="362.10" stroke="#0f3d7a" stroke-width="1.05" />
<line x1="330.50" y1="363.60" x2="345.20" y2="363.60" stroke="#0f3d7a" stroke-width="1.05" />
<line x1="380.75" y1="334.40" x2="380.75" y2="348.70" stroke="#c8102e" stroke-width="1.0" />
<line x1="373.80" y1="334.40" x2="387.70" y2="334.40" stroke="#c8102e" stroke-width="1.05" />
<line x1="373.80" y1="348.70" x2="387.70" y2="348.70" stroke="#c8102e" stroke-width="1.05" />
<circle cx="338.90" cy="358.40" r="1.65" fill="#0f3d7a"/>
<circle cx="326.90" cy="363.70" r="1.65" fill="#0f3d7a"/>
<circle cx="331.50" cy="364.10" r="1.65" fill="#0f3d7a"/>
<circle cx="336.10" cy="364.70" r="1.65" fill="#0f3d7a"/>
<circle cx="341.00" cy="362.70" r="1.65" fill="#0f3d7a"/>
<circle cx="345.90" cy="365.00" r="1.65" fill="#0f3d7a"/>
<circle cx="350.10" cy="365.00" r="1.65" fill="#0f3d7a"/>
<rect x="379.20" y="309.00" width="2.8" height="2.8" rx="0.55" fill="#c8102e"/>
<rect x="379.20" y="322.80" width="2.8" height="2.8" rx="0.55" fill="#c8102e"/>
<rect x="379.20" y="334.40" width="2.8" height="2.8" rx="0.55" fill="#c8102e"/>
<rect x="377.80" y="350.70" width="2.8" height="2.8" rx="0.55" fill="#c8102e"/>
<rect x="381.10" y="352.10" width="2.8" height="2.8" rx="0.55" fill="#c8102e"/>
<rect x="377.80" y="355.10" width="2.8" height="2.8" rx="0.55" fill="#c8102e"/>
<rect x="381.10" y="357.80" width="2.8" height="2.8" rx="0.55" fill="#c8102e"/>
<line x1="310.30" y1="305.30" x2="310.30" y2="371.80" stroke="#262626" stroke-width="1.25" />
<line x1="309.70" y1="371.20" x2="408.50" y2="371.20" stroke="#262626" stroke-width="1.3" />
<line x1="337.50" y1="308.80" x2="382.50" y2="308.80" stroke="#2a2a2a" stroke-width="1.3" />
<text x="360.00" y="307.90" font-size="7.4" text-anchor="middle" fill="#1e1e1e" color="#1e1e1e" >*</text>
<text x="360.70" y="299.10" font-size="8.8" text-anchor="middle" fill="#1e1e1e" color="#1e1e1e" textLength="46.20" lengthAdjust="spacingAndGlyphs" >EV P-selectin</text>
<text x="338.70" y="381.10" font-size="9.0" text-anchor="middle" fill="#1e1e1e" color="#1e1e1e" textLength="34.80" lengthAdjust="spacingAndGlyphs" >25D1.16–</text>
<text x="380.85" y="381.10" font-size="9.0" text-anchor="middle" fill="#1e1e1e" color="#1e1e1e" textLength="35.00" lengthAdjust="spacingAndGlyphs" >25D1.16+</text>
<text x="282.00" y="338.15" font-size="9.3" text-anchor="middle" fill="#1e1e1e" color="#1e1e1e" textLength="47.10" lengthAdjust="spacingAndGlyphs" transform="rotate(-90 282.00 338.15)" >P-selectin MFI</text>
<line x1="307.70" y1="465.20" x2="310.90" y2="465.20" stroke="#222" stroke-width="1.0" />
<text x="305.20" y="468.00" font-size="8.6" text-anchor="end" fill="#1e1e1e" color="#1e1e1e" textLength="4.30" lengthAdjust="spacingAndGlyphs" >0</text>
<line x1="307.70" y1="448.88" x2="310.90" y2="448.88" stroke="#222" stroke-width="1.0" />
<text x="305.20" y="451.68" font-size="8.6" text-anchor="end" fill="#1e1e1e" color="#1e1e1e" textLength="17.20" lengthAdjust="spacingAndGlyphs" >2000</text>
<line x1="307.70" y1="432.55" x2="310.90" y2="432.55" stroke="#222" stroke-width="1.0" />
<text x="305.20" y="435.35" font-size="8.6" text-anchor="end" fill="#1e1e1e" color="#1e1e1e" textLength="17.20" lengthAdjust="spacingAndGlyphs" >4000</text>
<line x1="307.70" y1="416.22" x2="310.90" y2="416.22" stroke="#222" stroke-width="1.0" />
<text x="305.20" y="419.02" font-size="8.6" text-anchor="end" fill="#1e1e1e" color="#1e1e1e" textLength="17.20" lengthAdjust="spacingAndGlyphs" >6000</text>
<line x1="307.70" y1="399.90" x2="310.90" y2="399.90" stroke="#222" stroke-width="1.0" />
<text x="305.20" y="402.70" font-size="8.6" text-anchor="end" fill="#1e1e1e" color="#1e1e1e" textLength="17.20" lengthAdjust="spacingAndGlyphs" >8000</text>
<rect x="325.90" y="460.50" width="26.80" height="4.70" fill="#a3bcd6"/>
<rect x="368.10" y="428.30" width="26.50" height="36.90" fill="#e69ea9"/>
<line x1="339.20" y1="458.70" x2="339.20" y2="460.60" stroke="#0f3d7a" stroke-width="1.0" />
<line x1="332.50" y1="458.70" x2="345.90" y2="458.70" stroke="#0f3d7a" stroke-width="1.05" />
<line x1="332.50" y1="460.60" x2="345.90" y2="460.60" stroke="#0f3d7a" stroke-width="1.05" />
<line x1="381.25" y1="423.50" x2="381.25" y2="432.10" stroke="#c8102e" stroke-width="1.0" />
<line x1="374.20" y1="423.50" x2="388.30" y2="423.50" stroke="#c8102e" stroke-width="1.05" />
<line x1="374.20" y1="432.10" x2="388.30" y2="432.10" stroke="#c8102e" stroke-width="1.05" />
<circle cx="339.10" cy="452.50" r="1.65" fill="#0f3d7a"/>
<circle cx="327.40" cy="460.70" r="1.65" fill="#0f3d7a"/>
<circle cx="332.10" cy="461.50" r="1.65" fill="#0f3d7a"/>
<circle cx="336.90" cy="462.50" r="1.65" fill="#0f3d7a"/>
<circle cx="341.60" cy="460.60" r="1.65" fill="#0f3d7a"/>
<circle cx="346.10" cy="462.50" r="1.65" fill="#0f3d7a"/>
<circle cx="350.80" cy="463.30" r="1.65" fill="#0f3d7a"/>
<rect x="379.80" y="404.00" width="2.8" height="2.8" rx="0.55" fill="#c8102e"/>
<rect x="379.80" y="424.60" width="2.8" height="2.8" rx="0.55" fill="#c8102e"/>
<rect x="378.20" y="427.40" width="2.8" height="2.8" rx="0.55" fill="#c8102e"/>
<rect x="381.10" y="429.40" width="2.8" height="2.8" rx="0.55" fill="#c8102e"/>
<rect x="376.30" y="431.30" width="2.8" height="2.8" rx="0.55" fill="#c8102e"/>
<rect x="379.80" y="434.20" width="2.8" height="2.8" rx="0.55" fill="#c8102e"/>
<rect x="383.00" y="435.50" width="2.8" height="2.8" rx="0.55" fill="#c8102e"/>
<line x1="310.90" y1="399.30" x2="310.90" y2="465.80" stroke="#262626" stroke-width="1.25" />
<line x1="310.30" y1="465.20" x2="409.00" y2="465.20" stroke="#262626" stroke-width="1.3" />
<line x1="338.10" y1="400.95" x2="383.00" y2="400.95" stroke="#2a2a2a" stroke-width="1.3" />
<text x="360.55" y="400.05" font-size="7.4" text-anchor="middle" fill="#1e1e1e" color="#1e1e1e" >*</text>
<text x="361.70" y="391.30" font-size="8.8" text-anchor="middle" fill="#1e1e1e" color="#1e1e1e" textLength="31.90" lengthAdjust="spacingAndGlyphs" >EV CD40</text>
<text x="339.30" y="476.40" font-size="9.0" text-anchor="middle" fill="#1e1e1e" color="#1e1e1e" textLength="34.80" lengthAdjust="spacingAndGlyphs" >25D1.16–</text>
<text x="381.35" y="476.40" font-size="9.0" text-anchor="middle" fill="#1e1e1e" color="#1e1e1e" textLength="35.00" lengthAdjust="spacingAndGlyphs" >25D1.16+</text>
<text x="282.00" y="432.65" font-size="9.3" text-anchor="middle" fill="#1e1e1e" color="#1e1e1e" textLength="32.70" lengthAdjust="spacingAndGlyphs" transform="rotate(-90 282.00 432.65)" >CD40 MFI</text>
<line x1="308.00" y1="558.20" x2="311.20" y2="558.20" stroke="#222" stroke-width="1.0" />
<text x="305.50" y="561.00" font-size="8.6" text-anchor="end" fill="#1e1e1e" color="#1e1e1e" textLength="4.30" lengthAdjust="spacingAndGlyphs" >0</text>
<line x1="308.00" y1="536.43" x2="311.20" y2="536.43" stroke="#222" stroke-width="1.0" />
<text x="305.50" y="539.23" font-size="8.6" text-anchor="end" fill="#1e1e1e" color="#1e1e1e" textLength="17.20" lengthAdjust="spacingAndGlyphs" >2000</text>
<line x1="308.00" y1="514.67" x2="311.20" y2="514.67" stroke="#222" stroke-width="1.0" />
<text x="305.50" y="517.47" font-size="8.6" text-anchor="end" fill="#1e1e1e" color="#1e1e1e" textLength="17.20" lengthAdjust="spacingAndGlyphs" >4000</text>
<line x1="308.00" y1="492.90" x2="311.20" y2="492.90" stroke="#222" stroke-width="1.0" />
<text x="305.50" y="495.70" font-size="8.6" text-anchor="end" fill="#1e1e1e" color="#1e1e1e" textLength="17.20" lengthAdjust="spacingAndGlyphs" >6000</text>
<rect x="326.20" y="555.60" width="26.10" height="2.60" fill="#a3bcd6"/>
<rect x="368.10" y="531.20" width="26.50" height="27.00" fill="#e69ea9"/>
<line x1="339.50" y1="555.10" x2="339.50" y2="557.00" stroke="#0f3d7a" stroke-width="1.0" />
<line x1="331.80" y1="555.10" x2="347.20" y2="555.10" stroke="#0f3d7a" stroke-width="1.05" />
<line x1="331.80" y1="557.00" x2="347.20" y2="557.00" stroke="#0f3d7a" stroke-width="1.05" />
<line x1="381.25" y1="524.40" x2="381.25" y2="536.30" stroke="#c8102e" stroke-width="1.0" />
<line x1="374.20" y1="524.40" x2="388.30" y2="524.40" stroke="#c8102e" stroke-width="1.05" />
<line x1="374.20" y1="536.30" x2="388.30" y2="536.30" stroke="#c8102e" stroke-width="1.05" />
<circle cx="339.10" cy="551.40" r="1.65" fill="#0f3d7a"/>
<circle cx="327.80" cy="556.60" r="1.65" fill="#0f3d7a"/>
<circle cx="332.50" cy="556.60" r="1.65" fill="#0f3d7a"/>
<circle cx="335.00" cy="556.40" r="1.65" fill="#0f3d7a"/>
<circle cx="339.30" cy="556.60" r="1.65" fill="#0f3d7a"/>
<circle cx="343.90" cy="556.60" r="1.65" fill="#0f3d7a"/>
<circle cx="350.80" cy="556.80" r="1.65" fill="#0f3d7a"/>
<rect x="380.10" y="498.00" width="2.8" height="2.8" rx="0.55" fill="#c8102e"/>
<rect x="381.10" y="524.40" width="2.8" height="2.8" rx="0.55" fill="#c8102e"/>
<rect x="378.60" y="526.70" width="2.8" height="2.8" rx="0.55" fill="#c8102e"/>
<rect x="379.80" y="533.00" width="2.8" height="2.8" rx="0.55" fill="#c8102e"/>
<rect x="378.20" y="536.30" width="2.8" height="2.8" rx="0.55" fill="#c8102e"/>
<rect x="381.70" y="537.40" width="2.8" height="2.8" rx="0.55" fill="#c8102e"/>
<rect x="380.10" y="547.10" width="2.8" height="2.8" rx="0.55" fill="#c8102e"/>
<line x1="311.20" y1="492.30" x2="311.20" y2="558.80" stroke="#262626" stroke-width="1.25" />
<line x1="310.60" y1="558.20" x2="409.00" y2="558.20" stroke="#262626" stroke-width="1.3" />
<line x1="337.90" y1="493.95" x2="382.90" y2="493.95" stroke="#2a2a2a" stroke-width="1.3" />
<text x="360.40" y="493.05" font-size="7.4" text-anchor="middle" fill="#1e1e1e" color="#1e1e1e" >*</text>
<text x="361.10" y="485.30" font-size="8.8" text-anchor="middle" fill="#1e1e1e" color="#1e1e1e" textLength="35.80" lengthAdjust="spacingAndGlyphs" >EV OX40L</text>
<text x="339.25" y="566.90" font-size="9.0" text-anchor="middle" fill="#1e1e1e" color="#1e1e1e" textLength="34.80" lengthAdjust="spacingAndGlyphs" >25D1.16–</text>
<text x="381.35" y="566.90" font-size="9.0" text-anchor="middle" fill="#1e1e1e" color="#1e1e1e" textLength="35.00" lengthAdjust="spacingAndGlyphs" >25D1.16+</text>
<text x="282.00" y="525.25" font-size="9.3" text-anchor="middle" fill="#1e1e1e" color="#1e1e1e" textLength="35.50" lengthAdjust="spacingAndGlyphs" transform="rotate(-90 282.00 525.25)" >OX40L MFI</text>
<rect x="181.60" y="15.80" width="68.70" height="68.60" fill="none" stroke="#a8a8a8" stroke-width="0.9"/>
<line x1="189.30" y1="84.40" x2="189.30" y2="86.00" stroke="#555" stroke-width="0.6" />
<line x1="203.00" y1="84.40" x2="203.00" y2="86.00" stroke="#555" stroke-width="0.6" />
<line x1="216.90" y1="84.40" x2="216.90" y2="86.00" stroke="#555" stroke-width="0.6" />
<line x1="230.80" y1="84.40" x2="230.80" y2="86.00" stroke="#555" stroke-width="0.6" />
<line x1="244.30" y1="84.40" x2="244.30" y2="86.00" stroke="#555" stroke-width="0.6" />
<path d="M181.60,84.40 L208.30,84.40 L208.80,70.00 L209.40,50.00 L210.00,32.00 L210.70,25.80 L211.50,28.00 L212.30,31.00 L213.20,35.80 L213.80,42.00 L214.40,50.00 L215.00,56.00 L216.00,63.00 L217.20,68.00 L218.50,73.00 L220.00,78.00 L221.50,82.00 L223.00,84.20 L225.00,84.40 L250.30,84.40 Z" fill="rgb(60,60,170)" fill-opacity="0.5" stroke="none"/>
<path d="M181.60,84.40 L208.30,84.40 L208.80,70.00 L209.40,50.00 L210.00,32.00 L210.70,25.80 L211.50,28.00 L212.30,31.00 L213.20,35.80 L213.80,42.00 L214.40,50.00 L215.00,56.00 L216.00,63.00 L217.20,68.00 L218.50,73.00 L220.00,78.00 L221.50,82.00 L223.00,84.20 L225.00,84.40 L250.30,84.40" fill="none" stroke="#4646b0" stroke-width="0.8" stroke-linejoin="round"/>
<path d="M181.60,84.40 L208.30,84.40 L209.50,75.00 L211.20,62.00 L213.00,55.00 L215.30,50.30 L216.70,43.40 L217.80,47.00 L218.80,49.00 L219.80,44.00 L220.90,40.30 L221.50,47.00 L222.20,55.00 L223.30,60.00 L224.30,63.50 L226.00,70.00 L228.50,78.00 L231.00,82.00 L235.00,83.00 L238.00,82.50 L241.00,83.50 L244.00,84.40 L250.30,84.40 Z" fill="rgb(236,60,70)" fill-opacity="0.52" stroke="none"/>
<path d="M181.60,84.40 L208.30,84.40 L209.50,75.00 L211.20,62.00 L213.00,55.00 L215.30,50.30 L216.70,43.40 L217.80,47.00 L218.80,49.00 L219.80,44.00 L220.90,40.30 L221.50,47.00 L222.20,55.00 L223.30,60.00 L224.30,63.50 L226.00,70.00 L228.50,78.00 L231.00,82.00 L235.00,83.00 L238.00,82.50 L241.00,83.50 L244.00,84.40 L250.30,84.40" fill="none" stroke="#e23a50" stroke-width="0.8" stroke-linejoin="round"/>
<text x="186.00" y="93.50" font-size="7.9" fill="#1e1e1e" color="#1e1e1e" textLength="6.3" lengthAdjust="spacingAndGlyphs">10</text>
<text x="192.40" y="90.40" font-size="4.9" fill="#1e1e1e" color="#1e1e1e">1</text>
<text x="199.60" y="93.50" font-size="7.9" fill="#1e1e1e" color="#1e1e1e" textLength="6.3" lengthAdjust="spacingAndGlyphs">10</text>
<text x="206.00" y="90.40" font-size="4.9" fill="#1e1e1e" color="#1e1e1e">2</text>
<text x="213.50" y="93.50" font-size="7.9" fill="#1e1e1e" color="#1e1e1e" textLength="6.3" lengthAdjust="spacingAndGlyphs">10</text>
<text x="219.90" y="90.40" font-size="4.9" fill="#1e1e1e" color="#1e1e1e">3</text>
<text x="227.40" y="93.50" font-size="7.9" fill="#1e1e1e" color="#1e1e1e" textLength="6.3" lengthAdjust="spacingAndGlyphs">10</text>
<text x="233.80" y="90.40" font-size="4.9" fill="#1e1e1e" color="#1e1e1e">4</text>
<text x="240.90" y="93.50" font-size="7.9" fill="#1e1e1e" color="#1e1e1e" textLength="6.3" lengthAdjust="spacingAndGlyphs">10</text>
<text x="247.30" y="90.40" font-size="4.9" fill="#1e1e1e" color="#1e1e1e">5</text>
<text x="199.10" y="100.70" font-size="8.5" text-anchor="start" fill="#1e1e1e" color="#1e1e1e" textLength="31.60" lengthAdjust="spacingAndGlyphs" >Proteasome</text>
<line x1="232.80" y1="98.80" x2="247.10" y2="98.80" stroke="#333" stroke-width="1.0" />
<path d="M246.40,97.00 L250.00,98.80 L246.40,100.60 Z" fill="#111"/>
<text x="177.90" y="61.65" font-size="10.0" text-anchor="middle" fill="#1e1e1e" color="#1e1e1e" textLength="20.30" lengthAdjust="spacingAndGlyphs" transform="rotate(-90 177.90 61.65)" >Count</text>
<line x1="175.70" y1="35.10" x2="175.70" y2="49.10" stroke="#444" stroke-width="1.0" />
<path d="M173.90,35.90 L175.70,32.10 L177.50,35.90 Z" fill="#111"/>
<rect x="440.30" y="15.80" width="69.00" height="68.60" fill="none" stroke="#a8a8a8" stroke-width="0.9"/>
<line x1="448.00" y1="84.40" x2="448.00" y2="86.00" stroke="#555" stroke-width="0.6" />
<line x1="461.70" y1="84.40" x2="461.70" y2="86.00" stroke="#555" stroke-width="0.6" />
<line x1="475.60" y1="84.40" x2="475.60" y2="86.00" stroke="#555" stroke-width="0.6" />
<line x1="489.50" y1="84.40" x2="489.50" y2="86.00" stroke="#555" stroke-width="0.6" />
<line x1="503.00" y1="84.40" x2="503.00" y2="86.00" stroke="#555" stroke-width="0.6" />
<path d="M440.30,84.40 L458.50,83.80 L460.00,70.00 L461.50,55.00 L462.20,50.00 L463.50,47.00 L464.50,43.40 L465.50,46.00 L466.20,52.00 L467.20,56.50 L468.50,60.00 L469.50,66.00 L470.60,74.70 L472.00,79.00 L473.60,81.50 L476.00,83.00 L478.60,83.80 L509.30,84.40 Z" fill="rgb(236,60,70)" fill-opacity="0.52" stroke="none"/>
<path d="M440.30,84.40 L458.50,83.80 L460.00,70.00 L461.50,55.00 L462.20,50.00 L463.50,47.00 L464.50,43.40 L465.50,46.00 L466.20,52.00 L467.20,56.50 L468.50,60.00 L469.50,66.00 L470.60,74.70 L472.00,79.00 L473.60,81.50 L476.00,83.00 L478.60,83.80 L509.30,84.40" fill="none" stroke="#e23a50" stroke-width="0.8" stroke-linejoin="round"/>
<path d="M440.30,84.40 L458.60,83.80 L459.20,60.00 L459.80,40.00 L460.30,29.80 L461.00,37.20 L462.10,37.80 L462.60,39.00 L463.20,49.50 L464.20,60.00 L465.30,69.70 L466.90,78.20 L469.00,83.00 L471.00,83.80 L509.30,84.40 Z" fill="rgb(60,60,170)" fill-opacity="0.5" stroke="none"/>
<path d="M440.30,84.40 L458.60,83.80 L459.20,60.00 L459.80,40.00 L460.30,29.80 L461.00,37.20 L462.10,37.80 L462.60,39.00 L463.20,49.50 L464.20,60.00 L465.30,69.70 L466.90,78.20 L469.00,83.00 L471.00,83.80 L509.30,84.40" fill="none" stroke="#4646b0" stroke-width="0.8" stroke-linejoin="round"/>
<text x="444.30" y="93.50" font-size="7.9" fill="#1e1e1e" color="#1e1e1e" textLength="6.3" lengthAdjust="spacingAndGlyphs">10</text>
<text x="450.70" y="90.40" font-size="4.9" fill="#1e1e1e" color="#1e1e1e">1</text>
<text x="457.90" y="93.50" font-size="7.9" fill="#1e1e1e" color="#1e1e1e" textLength="6.3" lengthAdjust="spacingAndGlyphs">10</text>
<text x="464.30" y="90.40" font-size="4.9" fill="#1e1e1e" color="#1e1e1e">2</text>
<text x="471.80" y="93.50" font-size="7.9" fill="#1e1e1e" color="#1e1e1e" textLength="6.3" lengthAdjust="spacingAndGlyphs">10</text>
<text x="478.20" y="90.40" font-size="4.9" fill="#1e1e1e" color="#1e1e1e">3</text>
<text x="485.70" y="93.50" font-size="7.9" fill="#1e1e1e" color="#1e1e1e" textLength="6.3" lengthAdjust="spacingAndGlyphs">10</text>
<text x="492.10" y="90.40" font-size="4.9" fill="#1e1e1e" color="#1e1e1e">4</text>
<text x="499.20" y="93.50" font-size="7.9" fill="#1e1e1e" color="#1e1e1e" textLength="6.3" lengthAdjust="spacingAndGlyphs">10</text>
<text x="505.60" y="90.40" font-size="4.9" fill="#1e1e1e" color="#1e1e1e">5</text>
<text x="456.70" y="100.70" font-size="8.5" text-anchor="start" fill="#1e1e1e" color="#1e1e1e" textLength="31.60" lengthAdjust="spacingAndGlyphs" >Proteasome</text>
<line x1="491.80" y1="98.80" x2="506.10" y2="98.80" stroke="#333" stroke-width="1.0" />
<path d="M505.40,97.00 L509.00,98.80 L505.40,100.60 Z" fill="#111"/>
<text x="436.60" y="61.65" font-size="10.0" text-anchor="middle" fill="#1e1e1e" color="#1e1e1e" textLength="20.30" lengthAdjust="spacingAndGlyphs" transform="rotate(-90 436.60 61.65)" >Count</text>
<line x1="434.40" y1="35.10" x2="434.40" y2="49.10" stroke="#444" stroke-width="1.0" />
<path d="M432.60,35.90 L434.40,32.10 L436.20,35.90 Z" fill="#111"/>
<rect x="181.60" y="106.10" width="68.70" height="68.50" fill="none" stroke="#a8a8a8" stroke-width="0.9"/>
<line x1="189.30" y1="174.60" x2="189.30" y2="176.20" stroke="#555" stroke-width="0.6" />
<line x1="203.00" y1="174.60" x2="203.00" y2="176.20" stroke="#555" stroke-width="0.6" />
<line x1="216.90" y1="174.60" x2="216.90" y2="176.20" stroke="#555" stroke-width="0.6" />
<line x1="230.80" y1="174.60" x2="230.80" y2="176.20" stroke="#555" stroke-width="0.6" />
<line x1="244.30" y1="174.60" x2="244.30" y2="176.20" stroke="#555" stroke-width="0.6" />
<path d="M181.60,174.60 L204.00,174.60 L210.00,174.00 L215.80,173.10 L219.00,171.50 L221.70,169.70 L223.20,166.00 L224.60,162.00 L225.60,156.00 L226.60,149.30 L228.00,139.50 L229.00,135.60 L230.50,130.00 L232.00,125.80 L233.00,132.00 L233.90,139.50 L234.80,147.00 L235.80,154.20 L236.80,162.00 L237.80,168.80 L239.00,172.00 L240.20,173.70 L243.00,174.60 L250.30,174.60 Z" fill="rgb(236,60,70)" fill-opacity="0.52" stroke="none"/>
<path d="M181.60,174.60 L204.00,174.60 L210.00,174.00 L215.80,173.10 L219.00,171.50 L221.70,169.70 L223.20,166.00 L224.60,162.00 L225.60,156.00 L226.60,149.30 L228.00,139.50 L229.00,135.60 L230.50,130.00 L232.00,125.80 L233.00,132.00 L233.90,139.50 L234.80,147.00 L235.80,154.20 L236.80,162.00 L237.80,168.80 L239.00,172.00 L240.20,173.70 L243.00,174.60 L250.30,174.60" fill="none" stroke="#e23a50" stroke-width="0.8" stroke-linejoin="round"/>
<path d="M181.60,174.60 L197.00,174.60 L200.00,173.80 L204.00,171.50 L208.00,169.00 L210.00,167.80 L213.90,164.90 L216.80,162.00 L219.30,152.20 L220.70,147.30 L222.70,136.60 L224.20,127.00 L225.10,123.40 L226.00,128.00 L226.60,131.00 L227.40,131.70 L228.30,138.00 L229.50,146.00 L230.50,152.20 L231.50,160.00 L232.40,166.00 L233.40,170.60 L234.90,174.00 L236.00,174.60 L250.30,174.60 Z" fill="rgb(60,60,170)" fill-opacity="0.5" stroke="none"/>
<path d="M181.60,174.60 L197.00,174.60 L200.00,173.80 L204.00,171.50 L208.00,169.00 L210.00,167.80 L213.90,164.90 L216.80,162.00 L219.30,152.20 L220.70,147.30 L222.70,136.60 L224.20,127.00 L225.10,123.40 L226.00,128.00 L226.60,131.00 L227.40,131.70 L228.30,138.00 L229.50,146.00 L230.50,152.20 L231.50,160.00 L232.40,166.00 L233.40,170.60 L234.90,174.00 L236.00,174.60 L250.30,174.60" fill="none" stroke="#4646b0" stroke-width="0.8" stroke-linejoin="round"/>
<text x="186.00" y="183.80" font-size="7.9" fill="#1e1e1e" color="#1e1e1e" textLength="6.3" lengthAdjust="spacingAndGlyphs">10</text>
<text x="192.40" y="180.70" font-size="4.9" fill="#1e1e1e" color="#1e1e1e">1</text>
<text x="199.60" y="183.80" font-size="7.9" fill="#1e1e1e" color="#1e1e1e" textLength="6.3" lengthAdjust="spacingAndGlyphs">10</text>
<text x="206.00" y="180.70" font-size="4.9" fill="#1e1e1e" color="#1e1e1e">2</text>
<text x="213.50" y="183.80" font-size="7.9" fill="#1e1e1e" color="#1e1e1e" textLength="6.3" lengthAdjust="spacingAndGlyphs">10</text>
<text x="219.90" y="180.70" font-size="4.9" fill="#1e1e1e" color="#1e1e1e">3</text>
<text x="227.40" y="183.80" font-size="7.9" fill="#1e1e1e" color="#1e1e1e" textLength="6.3" lengthAdjust="spacingAndGlyphs">10</text>
<text x="233.80" y="180.70" font-size="4.9" fill="#1e1e1e" color="#1e1e1e">4</text>
<text x="240.90" y="183.80" font-size="7.9" fill="#1e1e1e" color="#1e1e1e" textLength="6.3" lengthAdjust="spacingAndGlyphs">10</text>
<text x="247.30" y="180.70" font-size="4.9" fill="#1e1e1e" color="#1e1e1e">5</text>
<text x="201.00" y="191.70" font-size="8.5" text-anchor="start" fill="#1e1e1e" color="#1e1e1e" textLength="28.80" lengthAdjust="spacingAndGlyphs" >Annexin V</text>
<line x1="232.80" y1="189.80" x2="247.10" y2="189.80" stroke="#333" stroke-width="1.0" />
<path d="M246.40,188.00 L250.00,189.80 L246.40,191.60 Z" fill="#111"/>
<text x="177.90" y="151.95" font-size="10.0" text-anchor="middle" fill="#1e1e1e" color="#1e1e1e" textLength="20.30" lengthAdjust="spacingAndGlyphs" transform="rotate(-90 177.90 151.95)" >Count</text>
<line x1="175.70" y1="125.40" x2="175.70" y2="139.40" stroke="#444" stroke-width="1.0" />
<path d="M173.90,126.20 L175.70,122.40 L177.50,126.20 Z" fill="#111"/>
<rect x="440.30" y="106.10" width="69.00" height="68.50" fill="none" stroke="#a8a8a8" stroke-width="0.9"/>
<line x1="448.00" y1="174.60" x2="448.00" y2="176.20" stroke="#555" stroke-width="0.6" />
<line x1="461.70" y1="174.60" x2="461.70" y2="176.20" stroke="#555" stroke-width="0.6" />
<line x1="475.60" y1="174.60" x2="475.60" y2="176.20" stroke="#555" stroke-width="0.6" />
<line x1="489.50" y1="174.60" x2="489.50" y2="176.20" stroke="#555" stroke-width="0.6" />
<line x1="503.00" y1="174.60" x2="503.00" y2="176.20" stroke="#555" stroke-width="0.6" />
<path d="M440.30,174.60 L463.80,174.60 L465.70,168.90 L467.60,157.60 L468.80,146.40 L470.10,135.10 L471.30,126.30 L472.60,118.80 L473.60,116.90 L474.40,122.50 L475.30,121.90 L476.30,120.00 L477.30,123.80 L478.20,127.60 L479.50,136.30 L480.70,146.40 L482.00,155.10 L483.20,162.60 L485.10,170.20 L487.60,173.90 L489.00,174.80 L509.30,174.60 Z" fill="rgb(60,60,170)" fill-opacity="0.5" stroke="none"/>
<path d="M440.30,174.60 L463.80,174.60 L465.70,168.90 L467.60,157.60 L468.80,146.40 L470.10,135.10 L471.30,126.30 L472.60,118.80 L473.60,116.90 L474.40,122.50 L475.30,121.90 L476.30,120.00 L477.30,123.80 L478.20,127.60 L479.50,136.30 L480.70,146.40 L482.00,155.10 L483.20,162.60 L485.10,170.20 L487.60,173.90 L489.00,174.80 L509.30,174.60" fill="none" stroke="#4646b0" stroke-width="0.8" stroke-linejoin="round"/>
<path d="M440.30,174.60 L440.60,172.80 L445.00,174.00 L451.30,174.30 L453.80,173.30 L456.30,171.40 L458.20,168.90 L459.40,168.30 L461.30,168.90 L463.20,166.40 L465.00,160.10 L466.30,152.60 L467.60,142.60 L468.80,135.10 L470.10,131.30 L470.90,131.90 L471.90,138.80 L473.20,148.90 L474.40,157.60 L476.10,165.20 L478.20,167.70 L480.10,170.20 L482.60,172.70 L485.70,174.50 L488.00,174.80 L509.30,174.60 Z" fill="rgb(236,60,70)" fill-opacity="0.52" stroke="none"/>
<path d="M440.30,174.60 L440.60,172.80 L445.00,174.00 L451.30,174.30 L453.80,173.30 L456.30,171.40 L458.20,168.90 L459.40,168.30 L461.30,168.90 L463.20,166.40 L465.00,160.10 L466.30,152.60 L467.60,142.60 L468.80,135.10 L470.10,131.30 L470.90,131.90 L471.90,138.80 L473.20,148.90 L474.40,157.60 L476.10,165.20 L478.20,167.70 L480.10,170.20 L482.60,172.70 L485.70,174.50 L488.00,174.80 L509.30,174.60" fill="none" stroke="#e23a50" stroke-width="0.8" stroke-linejoin="round"/>
<text x="444.30" y="183.80" font-size="7.9" fill="#1e1e1e" color="#1e1e1e" textLength="6.3" lengthAdjust="spacingAndGlyphs">10</text>
<text x="450.70" y="180.70" font-size="4.9" fill="#1e1e1e" color="#1e1e1e">1</text>
<text x="457.90" y="183.80" font-size="7.9" fill="#1e1e1e" color="#1e1e1e" textLength="6.3" lengthAdjust="spacingAndGlyphs">10</text>
<text x="464.30" y="180.70" font-size="4.9" fill="#1e1e1e" color="#1e1e1e">2</text>
<text x="471.80" y="183.80" font-size="7.9" fill="#1e1e1e" color="#1e1e1e" textLength="6.3" lengthAdjust="spacingAndGlyphs">10</text>
<text x="478.20" y="180.70" font-size="4.9" fill="#1e1e1e" color="#1e1e1e">3</text>
<text x="485.70" y="183.80" font-size="7.9" fill="#1e1e1e" color="#1e1e1e" textLength="6.3" lengthAdjust="spacingAndGlyphs">10</text>
<text x="492.10" y="180.70" font-size="4.9" fill="#1e1e1e" color="#1e1e1e">4</text>
<text x="499.20" y="183.80" font-size="7.9" fill="#1e1e1e" color="#1e1e1e" textLength="6.3" lengthAdjust="spacingAndGlyphs">10</text>
<text x="505.60" y="180.70" font-size="4.9" fill="#1e1e1e" color="#1e1e1e">5</text>
<text x="458.60" y="191.70" font-size="8.5" text-anchor="start" fill="#1e1e1e" color="#1e1e1e" textLength="28.80" lengthAdjust="spacingAndGlyphs" >Annexin V</text>
<line x1="491.80" y1="189.80" x2="506.10" y2="189.80" stroke="#333" stroke-width="1.0" />
<path d="M505.40,188.00 L509.00,189.80 L505.40,191.60 Z" fill="#111"/>
<text x="436.60" y="151.95" font-size="10.0" text-anchor="middle" fill="#1e1e1e" color="#1e1e1e" textLength="20.30" lengthAdjust="spacingAndGlyphs" transform="rotate(-90 436.60 151.95)" >Count</text>
<line x1="434.40" y1="125.40" x2="434.40" y2="139.40" stroke="#444" stroke-width="1.0" />
<path d="M432.60,126.20 L434.40,122.40 L436.20,126.20 Z" fill="#111"/>
<rect x="181.60" y="196.50" width="68.70" height="68.40" fill="none" stroke="#a8a8a8" stroke-width="0.9"/>
<line x1="189.30" y1="264.90" x2="189.30" y2="266.50" stroke="#555" stroke-width="0.6" />
<line x1="203.00" y1="264.90" x2="203.00" y2="266.50" stroke="#555" stroke-width="0.6" />
<line x1="216.90" y1="264.90" x2="216.90" y2="266.50" stroke="#555" stroke-width="0.6" />
<line x1="230.80" y1="264.90" x2="230.80" y2="266.50" stroke="#555" stroke-width="0.6" />
<line x1="244.30" y1="264.90" x2="244.30" y2="266.50" stroke="#555" stroke-width="0.6" />
<path d="M181.60,264.90 L197.20,264.60 L201.50,263.30 L204.20,261.10 L206.90,255.70 L208.50,248.10 L209.60,239.50 L210.70,233.00 L212.30,230.40 L213.10,223.90 L213.60,223.30 L214.40,229.80 L215.30,237.40 L216.60,248.10 L218.20,256.80 L220.40,262.20 L223.10,264.30 L225.00,264.90 L250.30,264.90 Z" fill="rgb(236,60,70)" fill-opacity="0.52" stroke="none"/>
<path d="M181.60,264.90 L197.20,264.60 L201.50,263.30 L204.20,261.10 L206.90,255.70 L208.50,248.10 L209.60,239.50 L210.70,233.00 L212.30,230.40 L213.10,223.90 L213.60,223.30 L214.40,229.80 L215.30,237.40 L216.60,248.10 L218.20,256.80 L220.40,262.20 L223.10,264.30 L225.00,264.90 L250.30,264.90" fill="none" stroke="#e23a50" stroke-width="0.8" stroke-linejoin="round"/>
<path d="M181.60,264.90 L182.60,263.80 L185.30,262.70 L188.60,261.60 L191.80,260.60 L193.40,257.90 L195.60,253.50 L198.30,249.20 L199.90,243.80 L201.50,235.20 L202.60,226.60 L203.70,219.00 L204.20,215.20 L205.00,216.90 L206.00,215.20 L207.40,212.00 L208.20,211.50 L208.80,215.80 L209.30,224.40 L209.90,232.00 L210.70,242.80 L211.70,253.50 L213.40,262.20 L215.00,264.30 L217.00,264.90 L250.30,264.90 Z" fill="rgb(60,60,170)" fill-opacity="0.5" stroke="none"/>
<path d="M181.60,264.90 L182.60,263.80 L185.30,262.70 L188.60,261.60 L191.80,260.60 L193.40,257.90 L195.60,253.50 L198.30,249.20 L199.90,243.80 L201.50,235.20 L202.60,226.60 L203.70,219.00 L204.20,215.20 L205.00,216.90 L206.00,215.20 L207.40,212.00 L208.20,211.50 L208.80,215.80 L209.30,224.40 L209.90,232.00 L210.70,242.80 L211.70,253.50 L213.40,262.20 L215.00,264.30 L217.00,264.90 L250.30,264.90" fill="none" stroke="#4646b0" stroke-width="0.8" stroke-linejoin="round"/>
<line x1="181.90" y1="198.50" x2="181.90" y2="264.90" stroke="#58589c" stroke-width="0.9" />
<text x="186.00" y="274.10" font-size="7.9" fill="#1e1e1e" color="#1e1e1e" textLength="6.3" lengthAdjust="spacingAndGlyphs">10</text>
<text x="192.40" y="271.00" font-size="4.9" fill="#1e1e1e" color="#1e1e1e">1</text>
<text x="199.60" y="274.10" font-size="7.9" fill="#1e1e1e" color="#1e1e1e" textLength="6.3" lengthAdjust="spacingAndGlyphs">10</text>
<text x="206.00" y="271.00" font-size="4.9" fill="#1e1e1e" color="#1e1e1e">2</text>
<text x="213.50" y="274.10" font-size="7.9" fill="#1e1e1e" color="#1e1e1e" textLength="6.3" lengthAdjust="spacingAndGlyphs">10</text>
<text x="219.90" y="271.00" font-size="4.9" fill="#1e1e1e" color="#1e1e1e">3</text>
<text x="227.40" y="274.10" font-size="7.9" fill="#1e1e1e" color="#1e1e1e" textLength="6.3" lengthAdjust="spacingAndGlyphs">10</text>
<text x="233.80" y="271.00" font-size="4.9" fill="#1e1e1e" color="#1e1e1e">4</text>
<text x="240.90" y="274.10" font-size="7.9" fill="#1e1e1e" color="#1e1e1e" textLength="6.3" lengthAdjust="spacingAndGlyphs">10</text>
<text x="247.30" y="271.00" font-size="4.9" fill="#1e1e1e" color="#1e1e1e">5</text>
<text x="206.00" y="282.80" font-size="8.5" text-anchor="start" fill="#1e1e1e" color="#1e1e1e" textLength="18.80" lengthAdjust="spacingAndGlyphs" >CD40L</text>
<line x1="232.80" y1="280.90" x2="247.10" y2="280.90" stroke="#333" stroke-width="1.0" />
<path d="M246.40,279.10 L250.00,280.90 L246.40,282.70 Z" fill="#111"/>
<text x="177.90" y="242.35" font-size="10.0" text-anchor="middle" fill="#1e1e1e" color="#1e1e1e" textLength="20.30" lengthAdjust="spacingAndGlyphs" transform="rotate(-90 177.90 242.35)" >Count</text>
<line x1="175.70" y1="215.80" x2="175.70" y2="229.80" stroke="#444" stroke-width="1.0" />
<path d="M173.90,216.60 L175.70,212.80 L177.50,216.60 Z" fill="#111"/>
<rect x="440.30" y="196.50" width="69.00" height="68.40" fill="none" stroke="#a8a8a8" stroke-width="0.9"/>
<line x1="448.00" y1="264.90" x2="448.00" y2="266.50" stroke="#555" stroke-width="0.6" />
<line x1="461.70" y1="264.90" x2="461.70" y2="266.50" stroke="#555" stroke-width="0.6" />
<line x1="475.60" y1="264.90" x2="475.60" y2="266.50" stroke="#555" stroke-width="0.6" />
<line x1="489.50" y1="264.90" x2="489.50" y2="266.50" stroke="#555" stroke-width="0.6" />
<line x1="503.00" y1="264.90" x2="503.00" y2="266.50" stroke="#555" stroke-width="0.6" />
<path d="M440.30,264.90 L441.20,254.50 L441.80,264.80 L452.00,265.00 L454.20,265.00 L457.80,262.80 L460.10,260.40 L462.50,259.20 L464.30,261.00 L466.70,264.00 L468.40,264.60 L470.20,259.20 L471.40,254.50 L472.60,245.00 L473.80,233.20 L475.00,226.70 L476.10,224.30 L477.30,228.40 L478.20,235.50 L479.10,245.00 L480.90,254.50 L483.20,260.40 L485.60,262.80 L488.00,265.00 L490.00,265.20 L509.30,264.90 Z" fill="rgb(236,60,70)" fill-opacity="0.52" stroke="none"/>
<path d="M440.30,264.90 L441.20,254.50 L441.80,264.80 L452.00,265.00 L454.20,265.00 L457.80,262.80 L460.10,260.40 L462.50,259.20 L464.30,261.00 L466.70,264.00 L468.40,264.60 L470.20,259.20 L471.40,254.50 L472.60,245.00 L473.80,233.20 L475.00,226.70 L476.10,224.30 L477.30,228.40 L478.20,235.50 L479.10,245.00 L480.90,254.50 L483.20,260.40 L485.60,262.80 L488.00,265.00 L490.00,265.20 L509.30,264.90" fill="none" stroke="#e23a50" stroke-width="0.8" stroke-linejoin="round"/>
<path d="M440.30,264.90 L441.80,264.60 L443.60,260.40 L445.30,259.80 L447.10,258.10 L448.90,253.30 L450.70,248.60 L452.40,242.70 L453.60,240.30 L454.80,235.50 L456.60,227.30 L458.40,220.10 L459.50,214.20 L460.40,208.30 L461.10,211.80 L461.70,215.40 L462.50,213.00 L463.30,217.80 L464.30,229.60 L465.50,241.50 L466.70,253.30 L467.80,261.60 L469.00,265.00 L470.00,265.20 L509.30,264.90 Z" fill="rgb(60,60,170)" fill-opacity="0.5" stroke="none"/>
<path d="M440.30,264.90 L441.80,264.60 L443.60,260.40 L445.30,259.80 L447.10,258.10 L448.90,253.30 L450.70,248.60 L452.40,242.70 L453.60,240.30 L454.80,235.50 L456.60,227.30 L458.40,220.10 L459.50,214.20 L460.40,208.30 L461.10,211.80 L461.70,215.40 L462.50,213.00 L463.30,217.80 L464.30,229.60 L465.50,241.50 L466.70,253.30 L467.80,261.60 L469.00,265.00 L470.00,265.20 L509.30,264.90" fill="none" stroke="#4646b0" stroke-width="0.8" stroke-linejoin="round"/>
<line x1="440.60" y1="197.00" x2="440.60" y2="264.90" stroke="#58589c" stroke-width="0.9" />
<text x="444.30" y="274.10" font-size="7.9" fill="#1e1e1e" color="#1e1e1e" textLength="6.3" lengthAdjust="spacingAndGlyphs">10</text>
<text x="450.70" y="271.00" font-size="4.9" fill="#1e1e1e" color="#1e1e1e">1</text>
<text x="457.90" y="274.10" font-size="7.9" fill="#1e1e1e" color="#1e1e1e" textLength="6.3" lengthAdjust="spacingAndGlyphs">10</text>
<text x="464.30" y="271.00" font-size="4.9" fill="#1e1e1e" color="#1e1e1e">2</text>
<text x="471.80" y="274.10" font-size="7.9" fill="#1e1e1e" color="#1e1e1e" textLength="6.3" lengthAdjust="spacingAndGlyphs">10</text>
<text x="478.20" y="271.00" font-size="4.9" fill="#1e1e1e" color="#1e1e1e">3</text>
<text x="485.70" y="274.10" font-size="7.9" fill="#1e1e1e" color="#1e1e1e" textLength="6.3" lengthAdjust="spacingAndGlyphs">10</text>
<text x="492.10" y="271.00" font-size="4.9" fill="#1e1e1e" color="#1e1e1e">4</text>
<text x="499.20" y="274.10" font-size="7.9" fill="#1e1e1e" color="#1e1e1e" textLength="6.3" lengthAdjust="spacingAndGlyphs">10</text>
<text x="505.60" y="271.00" font-size="4.9" fill="#1e1e1e" color="#1e1e1e">5</text>
<text x="463.60" y="282.80" font-size="8.5" text-anchor="start" fill="#1e1e1e" color="#1e1e1e" textLength="18.80" lengthAdjust="spacingAndGlyphs" >CD40L</text>
<line x1="491.80" y1="280.90" x2="506.10" y2="280.90" stroke="#333" stroke-width="1.0" />
<path d="M505.40,279.10 L509.00,280.90 L505.40,282.70 Z" fill="#111"/>
<text x="436.60" y="242.35" font-size="10.0" text-anchor="middle" fill="#1e1e1e" color="#1e1e1e" textLength="20.30" lengthAdjust="spacingAndGlyphs" transform="rotate(-90 436.60 242.35)" >Count</text>
<line x1="434.40" y1="215.80" x2="434.40" y2="229.80" stroke="#444" stroke-width="1.0" />
<path d="M432.60,216.60 L434.40,212.80 L436.20,216.60 Z" fill="#111"/>
<rect x="181.60" y="287.30" width="68.70" height="68.10" fill="none" stroke="#a8a8a8" stroke-width="0.9"/>
<line x1="189.30" y1="355.40" x2="189.30" y2="357.00" stroke="#555" stroke-width="0.6" />
<line x1="203.00" y1="355.40" x2="203.00" y2="357.00" stroke="#555" stroke-width="0.6" />
<line x1="216.90" y1="355.40" x2="216.90" y2="357.00" stroke="#555" stroke-width="0.6" />
<line x1="230.80" y1="355.40" x2="230.80" y2="357.00" stroke="#555" stroke-width="0.6" />
<line x1="244.30" y1="355.40" x2="244.30" y2="357.00" stroke="#555" stroke-width="0.6" />
<path d="M181.60,355.40 L205.80,355.00 L209.30,351.80 L211.70,346.00 L213.40,336.70 L214.60,325.00 L215.20,318.00 L216.30,313.30 L217.30,304.00 L218.10,295.80 L218.70,295.30 L219.60,296.40 L220.40,295.80 L221.20,304.00 L222.20,313.30 L223.10,321.50 L224.50,328.50 L225.70,336.70 L227.40,346.00 L229.20,353.60 L231.50,355.20 L233.00,355.40 L250.30,355.40 Z" fill="rgb(60,60,170)" fill-opacity="0.5" stroke="none"/>
<path d="M181.60,355.40 L205.80,355.00 L209.30,351.80 L211.70,346.00 L213.40,336.70 L214.60,325.00 L215.20,318.00 L216.30,313.30 L217.30,304.00 L218.10,295.80 L218.70,295.30 L219.60,296.40 L220.40,295.80 L221.20,304.00 L222.20,313.30 L223.10,321.50 L224.50,328.50 L225.70,336.70 L227.40,346.00 L229.20,353.60 L231.50,355.20 L233.00,355.40 L250.30,355.40" fill="none" stroke="#4646b0" stroke-width="0.8" stroke-linejoin="round"/>
<path d="M181.60,355.40 L207.00,355.00 L211.70,353.60 L214.00,350.70 L216.30,344.80 L218.70,336.70 L220.40,329.70 L221.60,325.00 L223.30,320.90 L225.10,315.70 L226.60,309.30 L227.40,311.60 L228.60,318.00 L229.80,328.50 L231.30,339.00 L232.70,348.30 L234.40,354.20 L236.20,355.40 L250.30,355.40 Z" fill="rgb(236,60,70)" fill-opacity="0.52" stroke="none"/>
<path d="M181.60,355.40 L207.00,355.00 L211.70,353.60 L214.00,350.70 L216.30,344.80 L218.70,336.70 L220.40,329.70 L221.60,325.00 L223.30,320.90 L225.10,315.70 L226.60,309.30 L227.40,311.60 L228.60,318.00 L229.80,328.50 L231.30,339.00 L232.70,348.30 L234.40,354.20 L236.20,355.40 L250.30,355.40" fill="none" stroke="#e23a50" stroke-width="0.8" stroke-linejoin="round"/>
<text x="186.00" y="364.20" font-size="7.9" fill="#1e1e1e" color="#1e1e1e" textLength="6.3" lengthAdjust="spacingAndGlyphs">10</text>
<text x="192.40" y="361.10" font-size="4.9" fill="#1e1e1e" color="#1e1e1e">1</text>
<text x="199.60" y="364.20" font-size="7.9" fill="#1e1e1e" color="#1e1e1e" textLength="6.3" lengthAdjust="spacingAndGlyphs">10</text>
<text x="206.00" y="361.10" font-size="4.9" fill="#1e1e1e" color="#1e1e1e">2</text>
<text x="213.50" y="364.20" font-size="7.9" fill="#1e1e1e" color="#1e1e1e" textLength="6.3" lengthAdjust="spacingAndGlyphs">10</text>
<text x="219.90" y="361.10" font-size="4.9" fill="#1e1e1e" color="#1e1e1e">3</text>
<text x="227.40" y="364.20" font-size="7.9" fill="#1e1e1e" color="#1e1e1e" textLength="6.3" lengthAdjust="spacingAndGlyphs">10</text>
<text x="233.80" y="361.10" font-size="4.9" fill="#1e1e1e" color="#1e1e1e">4</text>
<text x="240.90" y="364.20" font-size="7.9" fill="#1e1e1e" color="#1e1e1e" textLength="6.3" lengthAdjust="spacingAndGlyphs">10</text>
<text x="247.30" y="361.10" font-size="4.9" fill="#1e1e1e" color="#1e1e1e">5</text>
<text x="201.70" y="372.10" font-size="8.5" text-anchor="start" fill="#1e1e1e" color="#1e1e1e" textLength="26.60" lengthAdjust="spacingAndGlyphs" >P-selectin</text>
<line x1="232.80" y1="370.20" x2="247.10" y2="370.20" stroke="#333" stroke-width="1.0" />
<path d="M246.40,368.40 L250.00,370.20 L246.40,372.00 Z" fill="#111"/>
<text x="177.90" y="333.15" font-size="10.0" text-anchor="middle" fill="#1e1e1e" color="#1e1e1e" textLength="20.30" lengthAdjust="spacingAndGlyphs" transform="rotate(-90 177.90 333.15)" >Count</text>
<line x1="175.70" y1="306.60" x2="175.70" y2="320.60" stroke="#444" stroke-width="1.0" />
<path d="M173.90,307.40 L175.70,303.60 L177.50,307.40 Z" fill="#111"/>
<rect x="440.30" y="287.30" width="69.00" height="68.10" fill="none" stroke="#a8a8a8" stroke-width="0.9"/>
<line x1="448.00" y1="355.40" x2="448.00" y2="357.00" stroke="#555" stroke-width="0.6" />
<line x1="461.70" y1="355.40" x2="461.70" y2="357.00" stroke="#555" stroke-width="0.6" />
<line x1="475.60" y1="355.40" x2="475.60" y2="357.00" stroke="#555" stroke-width="0.6" />
<line x1="489.50" y1="355.40" x2="489.50" y2="357.00" stroke="#555" stroke-width="0.6" />
<line x1="503.00" y1="355.40" x2="503.00" y2="357.00" stroke="#555" stroke-width="0.6" />
<path d="M440.30,355.40 L459.80,355.00 L461.00,345.70 L461.90,333.70 L462.80,321.70 L463.80,312.00 L464.60,306.00 L465.50,300.00 L466.20,297.00 L467.00,298.80 L467.90,296.40 L468.60,295.80 L469.20,300.00 L470.00,307.20 L471.00,312.00 L471.80,321.70 L473.60,336.10 L475.40,345.70 L477.20,352.90 L479.00,354.90 L480.00,355.40 L509.30,355.40 Z" fill="rgb(60,60,170)" fill-opacity="0.5" stroke="none"/>
<path d="M440.30,355.40 L459.80,355.00 L461.00,345.70 L461.90,333.70 L462.80,321.70 L463.80,312.00 L464.60,306.00 L465.50,300.00 L466.20,297.00 L467.00,298.80 L467.90,296.40 L468.60,295.80 L469.20,300.00 L470.00,307.20 L471.00,312.00 L471.80,321.70 L473.60,336.10 L475.40,345.70 L477.20,352.90 L479.00,354.90 L480.00,355.40 L509.30,355.40" fill="none" stroke="#4646b0" stroke-width="0.8" stroke-linejoin="round"/>
<path d="M440.30,355.40 L460.40,355.00 L462.20,350.50 L463.40,343.30 L464.60,339.70 L465.80,337.30 L467.00,330.10 L468.20,322.90 L469.40,315.60 L470.60,310.20 L471.50,313.20 L472.40,321.70 L473.60,333.70 L474.80,342.10 L476.00,349.30 L477.80,354.10 L480.80,355.20 L482.00,355.40 L509.30,355.40 Z" fill="rgb(236,60,70)" fill-opacity="0.52" stroke="none"/>
<path d="M440.30,355.40 L460.40,355.00 L462.20,350.50 L463.40,343.30 L464.60,339.70 L465.80,337.30 L467.00,330.10 L468.20,322.90 L469.40,315.60 L470.60,310.20 L471.50,313.20 L472.40,321.70 L473.60,333.70 L474.80,342.10 L476.00,349.30 L477.80,354.10 L480.80,355.20 L482.00,355.40 L509.30,355.40" fill="none" stroke="#e23a50" stroke-width="0.8" stroke-linejoin="round"/>
<text x="444.30" y="364.20" font-size="7.9" fill="#1e1e1e" color="#1e1e1e" textLength="6.3" lengthAdjust="spacingAndGlyphs">10</text>
<text x="450.70" y="361.10" font-size="4.9" fill="#1e1e1e" color="#1e1e1e">1</text>
<text x="457.90" y="364.20" font-size="7.9" fill="#1e1e1e" color="#1e1e1e" textLength="6.3" lengthAdjust="spacingAndGlyphs">10</text>
<text x="464.30" y="361.10" font-size="4.9" fill="#1e1e1e" color="#1e1e1e">2</text>
<text x="471.80" y="364.20" font-size="7.9" fill="#1e1e1e" color="#1e1e1e" textLength="6.3" lengthAdjust="spacingAndGlyphs">10</text>
<text x="478.20" y="361.10" font-size="4.9" fill="#1e1e1e" color="#1e1e1e">3</text>
<text x="485.70" y="364.20" font-size="7.9" fill="#1e1e1e" color="#1e1e1e" textLength="6.3" lengthAdjust="spacingAndGlyphs">10</text>
<text x="492.10" y="361.10" font-size="4.9" fill="#1e1e1e" color="#1e1e1e">4</text>
<text x="499.20" y="364.20" font-size="7.9" fill="#1e1e1e" color="#1e1e1e" textLength="6.3" lengthAdjust="spacingAndGlyphs">10</text>
<text x="505.60" y="361.10" font-size="4.9" fill="#1e1e1e" color="#1e1e1e">5</text>
<text x="459.30" y="372.10" font-size="8.5" text-anchor="start" fill="#1e1e1e" color="#1e1e1e" textLength="26.60" lengthAdjust="spacingAndGlyphs" >P-selectin</text>
<line x1="491.80" y1="370.20" x2="506.10" y2="370.20" stroke="#333" stroke-width="1.0" />
<path d="M505.40,368.40 L509.00,370.20 L505.40,372.00 Z" fill="#111"/>
<text x="436.60" y="333.15" font-size="10.0" text-anchor="middle" fill="#1e1e1e" color="#1e1e1e" textLength="20.30" lengthAdjust="spacingAndGlyphs" transform="rotate(-90 436.60 333.15)" >Count</text>
<line x1="434.40" y1="306.60" x2="434.40" y2="320.60" stroke="#444" stroke-width="1.0" />
<path d="M432.60,307.40 L434.40,303.60 L436.20,307.40 Z" fill="#111"/>
<rect x="181.60" y="377.70" width="68.70" height="68.70" fill="none" stroke="#a8a8a8" stroke-width="0.9"/>
<line x1="189.30" y1="446.40" x2="189.30" y2="448.00" stroke="#555" stroke-width="0.6" />
<line x1="203.00" y1="446.40" x2="203.00" y2="448.00" stroke="#555" stroke-width="0.6" />
<line x1="216.90" y1="446.40" x2="216.90" y2="448.00" stroke="#555" stroke-width="0.6" />
<line x1="230.80" y1="446.40" x2="230.80" y2="448.00" stroke="#555" stroke-width="0.6" />
<line x1="244.30" y1="446.40" x2="244.30" y2="448.00" stroke="#555" stroke-width="0.6" />
<path d="M181.60,446.40 L212.80,446.00 L216.30,444.00 L218.70,441.00 L220.50,439.20 L222.30,434.50 L224.00,429.80 L225.20,419.10 L226.20,409.60 L227.00,397.80 L227.60,394.20 L228.40,400.10 L229.40,404.30 L230.30,409.60 L231.10,415.50 L232.30,425.00 L233.50,430.90 L234.70,435.70 L236.50,441.60 L238.80,445.60 L241.00,446.40 L250.30,446.40 Z" fill="rgb(236,60,70)" fill-opacity="0.52" stroke="none"/>
<path d="M181.60,446.40 L212.80,446.00 L216.30,444.00 L218.70,441.00 L220.50,439.20 L222.30,434.50 L224.00,429.80 L225.20,419.10 L226.20,409.60 L227.00,397.80 L227.60,394.20 L228.40,400.10 L229.40,404.30 L230.30,409.60 L231.10,415.50 L232.30,425.00 L233.50,430.90 L234.70,435.70 L236.50,441.60 L238.80,445.60 L241.00,446.40 L250.30,446.40" fill="none" stroke="#e23a50" stroke-width="0.8" stroke-linejoin="round"/>
<path d="M181.60,446.40 L195.00,445.80 L199.70,444.60 L203.30,444.00 L206.30,441.60 L209.20,436.90 L211.60,430.90 L213.40,422.70 L214.50,415.50 L215.70,407.30 L216.70,399.00 L217.50,393.00 L218.50,388.30 L219.30,385.30 L220.10,389.50 L221.10,393.00 L222.00,397.80 L223.20,406.10 L224.40,413.20 L225.60,421.50 L227.00,429.80 L228.40,438.10 L230.00,444.00 L231.70,446.00 L233.00,446.40 L250.30,446.40 Z" fill="rgb(60,60,170)" fill-opacity="0.5" stroke="none"/>
<path d="M181.60,446.40 L195.00,445.80 L199.70,444.60 L203.30,444.00 L206.30,441.60 L209.20,436.90 L211.60,430.90 L213.40,422.70 L214.50,415.50 L215.70,407.30 L216.70,399.00 L217.50,393.00 L218.50,388.30 L219.30,385.30 L220.10,389.50 L221.10,393.00 L222.00,397.80 L223.20,406.10 L224.40,413.20 L225.60,421.50 L227.00,429.80 L228.40,438.10 L230.00,444.00 L231.70,446.00 L233.00,446.40 L250.30,446.40" fill="none" stroke="#4646b0" stroke-width="0.8" stroke-linejoin="round"/>
<line x1="181.90" y1="394.70" x2="181.90" y2="446.40" stroke="#58589c" stroke-width="0.9" />
<text x="186.00" y="455.10" font-size="7.9" fill="#1e1e1e" color="#1e1e1e" textLength="6.3" lengthAdjust="spacingAndGlyphs">10</text>
<text x="192.40" y="452.00" font-size="4.9" fill="#1e1e1e" color="#1e1e1e">1</text>
<text x="199.60" y="455.10" font-size="7.9" fill="#1e1e1e" color="#1e1e1e" textLength="6.3" lengthAdjust="spacingAndGlyphs">10</text>
<text x="206.00" y="452.00" font-size="4.9" fill="#1e1e1e" color="#1e1e1e">2</text>
<text x="213.50" y="455.10" font-size="7.9" fill="#1e1e1e" color="#1e1e1e" textLength="6.3" lengthAdjust="spacingAndGlyphs">10</text>
<text x="219.90" y="452.00" font-size="4.9" fill="#1e1e1e" color="#1e1e1e">3</text>
<text x="227.40" y="455.10" font-size="7.9" fill="#1e1e1e" color="#1e1e1e" textLength="6.3" lengthAdjust="spacingAndGlyphs">10</text>
<text x="233.80" y="452.00" font-size="4.9" fill="#1e1e1e" color="#1e1e1e">4</text>
<text x="240.90" y="455.10" font-size="7.9" fill="#1e1e1e" color="#1e1e1e" textLength="6.3" lengthAdjust="spacingAndGlyphs">10</text>
<text x="247.30" y="452.00" font-size="4.9" fill="#1e1e1e" color="#1e1e1e">5</text>
<text x="207.10" y="462.50" font-size="8.5" text-anchor="start" fill="#1e1e1e" color="#1e1e1e" textLength="16.00" lengthAdjust="spacingAndGlyphs" >CD40</text>
<line x1="232.80" y1="460.60" x2="247.10" y2="460.60" stroke="#333" stroke-width="1.0" />
<path d="M246.40,458.80 L250.00,460.60 L246.40,462.40 Z" fill="#111"/>
<text x="177.90" y="423.55" font-size="10.0" text-anchor="middle" fill="#1e1e1e" color="#1e1e1e" textLength="20.30" lengthAdjust="spacingAndGlyphs" transform="rotate(-90 177.90 423.55)" >Count</text>
<line x1="175.70" y1="397.00" x2="175.70" y2="411.00" stroke="#444" stroke-width="1.0" />
<path d="M173.90,397.80 L175.70,394.00 L177.50,397.80 Z" fill="#111"/>
<rect x="440.30" y="377.70" width="69.00" height="68.70" fill="none" stroke="#a8a8a8" stroke-width="0.9"/>
<line x1="448.00" y1="446.40" x2="448.00" y2="448.00" stroke="#555" stroke-width="0.6" />
<line x1="461.70" y1="446.40" x2="461.70" y2="448.00" stroke="#555" stroke-width="0.6" />
<line x1="475.60" y1="446.40" x2="475.60" y2="448.00" stroke="#555" stroke-width="0.6" />
<line x1="489.50" y1="446.40" x2="489.50" y2="448.00" stroke="#555" stroke-width="0.6" />
<line x1="503.00" y1="446.40" x2="503.00" y2="448.00" stroke="#555" stroke-width="0.6" />
<path d="M440.30,446.40 L463.70,446.00 L469.60,444.90 L471.40,442.80 L473.20,440.40 L475.50,439.20 L477.30,436.90 L478.50,433.30 L479.70,431.00 L480.90,428.60 L482.10,425.00 L483.20,419.10 L484.10,409.60 L484.80,400.10 L485.40,400.70 L486.20,409.60 L487.20,421.50 L488.30,432.10 L489.80,436.90 L491.20,441.60 L493.30,445.60 L495.00,446.40 L509.30,446.40 Z" fill="rgb(236,60,70)" fill-opacity="0.52" stroke="none"/>
<path d="M440.30,446.40 L463.70,446.00 L469.60,444.90 L471.40,442.80 L473.20,440.40 L475.50,439.20 L477.30,436.90 L478.50,433.30 L479.70,431.00 L480.90,428.60 L482.10,425.00 L483.20,419.10 L484.10,409.60 L484.80,400.10 L485.40,400.70 L486.20,409.60 L487.20,421.50 L488.30,432.10 L489.80,436.90 L491.20,441.60 L493.30,445.60 L495.00,446.40 L509.30,446.40" fill="none" stroke="#e23a50" stroke-width="0.8" stroke-linejoin="round"/>
<path d="M440.30,446.40 L441.20,444.60 L447.10,445.20 L450.70,444.00 L455.40,442.20 L459.60,440.40 L461.30,436.90 L463.10,432.10 L464.90,425.00 L466.10,422.70 L467.50,417.90 L468.40,408.40 L469.00,403.70 L470.20,401.30 L471.00,397.80 L472.00,391.80 L472.70,389.50 L473.50,394.20 L474.40,399.00 L475.30,408.40 L476.10,415.50 L477.30,422.70 L478.50,432.10 L479.70,439.20 L480.90,443.40 L482.70,445.60 L484.00,446.40 L509.30,446.40 Z" fill="rgb(60,60,170)" fill-opacity="0.5" stroke="none"/>
<path d="M440.30,446.40 L441.20,444.60 L447.10,445.20 L450.70,444.00 L455.40,442.20 L459.60,440.40 L461.30,436.90 L463.10,432.10 L464.90,425.00 L466.10,422.70 L467.50,417.90 L468.40,408.40 L469.00,403.70 L470.20,401.30 L471.00,397.80 L472.00,391.80 L472.70,389.50 L473.50,394.20 L474.40,399.00 L475.30,408.40 L476.10,415.50 L477.30,422.70 L478.50,432.10 L479.70,439.20 L480.90,443.40 L482.70,445.60 L484.00,446.40 L509.30,446.40" fill="none" stroke="#4646b0" stroke-width="0.8" stroke-linejoin="round"/>
<line x1="440.60" y1="378.20" x2="440.60" y2="446.40" stroke="#58589c" stroke-width="0.9" />
<text x="444.30" y="455.10" font-size="7.9" fill="#1e1e1e" color="#1e1e1e" textLength="6.3" lengthAdjust="spacingAndGlyphs">10</text>
<text x="450.70" y="452.00" font-size="4.9" fill="#1e1e1e" color="#1e1e1e">1</text>
<text x="457.90" y="455.10" font-size="7.9" fill="#1e1e1e" color="#1e1e1e" textLength="6.3" lengthAdjust="spacingAndGlyphs">10</text>
<text x="464.30" y="452.00" font-size="4.9" fill="#1e1e1e" color="#1e1e1e">2</text>
<text x="471.80" y="455.10" font-size="7.9" fill="#1e1e1e" color="#1e1e1e" textLength="6.3" lengthAdjust="spacingAndGlyphs">10</text>
<text x="478.20" y="452.00" font-size="4.9" fill="#1e1e1e" color="#1e1e1e">3</text>
<text x="485.70" y="455.10" font-size="7.9" fill="#1e1e1e" color="#1e1e1e" textLength="6.3" lengthAdjust="spacingAndGlyphs">10</text>
<text x="492.10" y="452.00" font-size="4.9" fill="#1e1e1e" color="#1e1e1e">4</text>
<text x="499.20" y="455.10" font-size="7.9" fill="#1e1e1e" color="#1e1e1e" textLength="6.3" lengthAdjust="spacingAndGlyphs">10</text>
<text x="505.60" y="452.00" font-size="4.9" fill="#1e1e1e" color="#1e1e1e">5</text>
<text x="464.70" y="462.50" font-size="8.5" text-anchor="start" fill="#1e1e1e" color="#1e1e1e" textLength="16.00" lengthAdjust="spacingAndGlyphs" >CD40</text>
<line x1="491.80" y1="460.60" x2="506.10" y2="460.60" stroke="#333" stroke-width="1.0" />
<path d="M505.40,458.80 L509.00,460.60 L505.40,462.40 Z" fill="#111"/>
<text x="436.60" y="423.55" font-size="10.0" text-anchor="middle" fill="#1e1e1e" color="#1e1e1e" textLength="20.30" lengthAdjust="spacingAndGlyphs" transform="rotate(-90 436.60 423.55)" >Count</text>
<line x1="434.40" y1="397.00" x2="434.40" y2="411.00" stroke="#444" stroke-width="1.0" />
<path d="M432.60,397.80 L434.40,394.00 L436.20,397.80 Z" fill="#111"/>
<rect x="181.60" y="467.80" width="68.70" height="68.30" fill="none" stroke="#a8a8a8" stroke-width="0.9"/>
<line x1="189.30" y1="536.10" x2="189.30" y2="537.70" stroke="#555" stroke-width="0.6" />
<line x1="203.00" y1="536.10" x2="203.00" y2="537.70" stroke="#555" stroke-width="0.6" />
<line x1="216.90" y1="536.10" x2="216.90" y2="537.70" stroke="#555" stroke-width="0.6" />
<line x1="230.80" y1="536.10" x2="230.80" y2="537.70" stroke="#555" stroke-width="0.6" />
<line x1="244.30" y1="536.10" x2="244.30" y2="537.70" stroke="#555" stroke-width="0.6" />
<path d="M181.60,536.10 L182.80,535.20 L186.90,534.00 L190.50,532.20 L194.00,531.00 L196.40,528.60 L198.20,525.10 L200.00,523.30 L201.10,519.80 L202.30,515.00 L203.50,507.90 L204.70,499.60 L205.90,491.30 L206.80,484.80 L207.70,484.20 L208.30,481.80 L209.10,478.90 L209.80,481.80 L210.60,484.20 L211.80,487.80 L212.40,493.70 L212.80,503.20 L213.60,511.50 L214.80,519.80 L216.00,529.20 L217.10,535.20 L218.50,536.10 L250.30,536.10 Z" fill="rgb(60,60,170)" fill-opacity="0.5" stroke="none"/>
<path d="M181.60,536.10 L182.80,535.20 L186.90,534.00 L190.50,532.20 L194.00,531.00 L196.40,528.60 L198.20,525.10 L200.00,523.30 L201.10,519.80 L202.30,515.00 L203.50,507.90 L204.70,499.60 L205.90,491.30 L206.80,484.80 L207.70,484.20 L208.30,481.80 L209.10,478.90 L209.80,481.80 L210.60,484.20 L211.80,487.80 L212.40,493.70 L212.80,503.20 L213.60,511.50 L214.80,519.80 L216.00,529.20 L217.10,535.20 L218.50,536.10 L250.30,536.10" fill="none" stroke="#4646b0" stroke-width="0.8" stroke-linejoin="round"/>
<path d="M181.60,536.10 L182.30,528.20 L183.40,535.20 L192.80,535.80 L201.10,534.90 L204.70,534.00 L206.50,531.60 L208.30,524.50 L210.00,523.30 L211.20,519.80 L212.00,511.50 L212.80,505.50 L213.60,497.30 L214.50,489.00 L215.40,486.00 L216.30,489.00 L217.10,493.70 L218.30,503.20 L219.50,511.50 L221.30,519.80 L223.10,526.90 L225.40,534.00 L227.80,535.80 L229.00,536.10 L250.30,536.10 Z" fill="rgb(236,60,70)" fill-opacity="0.52" stroke="none"/>
<path d="M181.60,536.10 L182.30,528.20 L183.40,535.20 L192.80,535.80 L201.10,534.90 L204.70,534.00 L206.50,531.60 L208.30,524.50 L210.00,523.30 L211.20,519.80 L212.00,511.50 L212.80,505.50 L213.60,497.30 L214.50,489.00 L215.40,486.00 L216.30,489.00 L217.10,493.70 L218.30,503.20 L219.50,511.50 L221.30,519.80 L223.10,526.90 L225.40,534.00 L227.80,535.80 L229.00,536.10 L250.30,536.10" fill="none" stroke="#e23a50" stroke-width="0.8" stroke-linejoin="round"/>
<line x1="181.90" y1="469.80" x2="181.90" y2="536.10" stroke="#58589c" stroke-width="0.9" />
<text x="186.00" y="545.60" font-size="7.9" fill="#1e1e1e" color="#1e1e1e" textLength="6.3" lengthAdjust="spacingAndGlyphs">10</text>
<text x="192.40" y="542.50" font-size="4.9" fill="#1e1e1e" color="#1e1e1e">1</text>
<text x="199.60" y="545.60" font-size="7.9" fill="#1e1e1e" color="#1e1e1e" textLength="6.3" lengthAdjust="spacingAndGlyphs">10</text>
<text x="206.00" y="542.50" font-size="4.9" fill="#1e1e1e" color="#1e1e1e">2</text>
<text x="213.50" y="545.60" font-size="7.9" fill="#1e1e1e" color="#1e1e1e" textLength="6.3" lengthAdjust="spacingAndGlyphs">10</text>
<text x="219.90" y="542.50" font-size="4.9" fill="#1e1e1e" color="#1e1e1e">3</text>
<text x="227.40" y="545.60" font-size="7.9" fill="#1e1e1e" color="#1e1e1e" textLength="6.3" lengthAdjust="spacingAndGlyphs">10</text>
<text x="233.80" y="542.50" font-size="4.9" fill="#1e1e1e" color="#1e1e1e">4</text>
<text x="240.90" y="545.60" font-size="7.9" fill="#1e1e1e" color="#1e1e1e" textLength="6.3" lengthAdjust="spacingAndGlyphs">10</text>
<text x="247.30" y="542.50" font-size="4.9" fill="#1e1e1e" color="#1e1e1e">5</text>
<text x="206.00" y="553.60" font-size="8.5" text-anchor="start" fill="#1e1e1e" color="#1e1e1e" textLength="18.20" lengthAdjust="spacingAndGlyphs" >OX40L</text>
<line x1="232.80" y1="551.70" x2="247.10" y2="551.70" stroke="#333" stroke-width="1.0" />
<path d="M246.40,549.90 L250.00,551.70 L246.40,553.50 Z" fill="#111"/>
<text x="177.90" y="513.65" font-size="10.0" text-anchor="middle" fill="#1e1e1e" color="#1e1e1e" textLength="20.30" lengthAdjust="spacingAndGlyphs" transform="rotate(-90 177.90 513.65)" >Count</text>
<line x1="175.70" y1="487.10" x2="175.70" y2="501.10" stroke="#444" stroke-width="1.0" />
<path d="M173.90,487.90 L175.70,484.10 L177.50,487.90 Z" fill="#111"/>
<rect x="440.30" y="467.80" width="69.00" height="68.30" fill="none" stroke="#a8a8a8" stroke-width="0.9"/>
<line x1="448.00" y1="536.10" x2="448.00" y2="537.70" stroke="#555" stroke-width="0.6" />
<line x1="461.70" y1="536.10" x2="461.70" y2="537.70" stroke="#555" stroke-width="0.6" />
<line x1="475.60" y1="536.10" x2="475.60" y2="537.70" stroke="#555" stroke-width="0.6" />
<line x1="489.50" y1="536.10" x2="489.50" y2="537.70" stroke="#555" stroke-width="0.6" />
<line x1="503.00" y1="536.10" x2="503.00" y2="537.70" stroke="#555" stroke-width="0.6" />
<path d="M440.30,536.10 L441.80,534.90 L444.70,532.80 L447.10,531.00 L449.50,530.40 L451.30,528.10 L453.00,524.50 L454.80,519.80 L456.60,515.00 L458.40,509.10 L459.60,500.80 L460.70,492.50 L461.90,487.80 L463.10,484.20 L463.70,481.80 L464.50,478.30 L465.50,480.10 L466.30,481.80 L467.00,487.80 L467.80,497.30 L468.70,507.90 L469.60,519.80 L470.80,529.20 L472.00,534.00 L473.80,535.60 L475.00,536.10 L509.30,536.10 Z" fill="rgb(60,60,170)" fill-opacity="0.5" stroke="none"/>
<path d="M440.30,536.10 L441.80,534.90 L444.70,532.80 L447.10,531.00 L449.50,530.40 L451.30,528.10 L453.00,524.50 L454.80,519.80 L456.60,515.00 L458.40,509.10 L459.60,500.80 L460.70,492.50 L461.90,487.80 L463.10,484.20 L463.70,481.80 L464.50,478.30 L465.50,480.10 L466.30,481.80 L467.00,487.80 L467.80,497.30 L468.70,507.90 L469.60,519.80 L470.80,529.20 L472.00,534.00 L473.80,535.60 L475.00,536.10 L509.30,536.10" fill="none" stroke="#4646b0" stroke-width="0.8" stroke-linejoin="round"/>
<path d="M440.30,536.10 L440.70,526.30 L441.40,535.20 L454.20,535.40 L459.00,534.60 L462.50,533.40 L465.50,532.20 L467.50,531.00 L469.00,532.20 L471.40,534.00 L473.20,534.60 L474.40,531.60 L475.50,525.70 L476.70,517.40 L478.20,507.90 L479.30,499.60 L480.90,494.30 L481.50,497.30 L482.40,505.50 L483.60,515.00 L485.00,523.30 L486.80,530.40 L488.60,534.60 L490.40,535.60 L492.00,536.10 L509.30,536.10 Z" fill="rgb(236,60,70)" fill-opacity="0.52" stroke="none"/>
<path d="M440.30,536.10 L440.70,526.30 L441.40,535.20 L454.20,535.40 L459.00,534.60 L462.50,533.40 L465.50,532.20 L467.50,531.00 L469.00,532.20 L471.40,534.00 L473.20,534.60 L474.40,531.60 L475.50,525.70 L476.70,517.40 L478.20,507.90 L479.30,499.60 L480.90,494.30 L481.50,497.30 L482.40,505.50 L483.60,515.00 L485.00,523.30 L486.80,530.40 L488.60,534.60 L490.40,535.60 L492.00,536.10 L509.30,536.10" fill="none" stroke="#e23a50" stroke-width="0.8" stroke-linejoin="round"/>
<line x1="440.60" y1="468.30" x2="440.60" y2="536.10" stroke="#58589c" stroke-width="0.9" />
<text x="444.30" y="545.60" font-size="7.9" fill="#1e1e1e" color="#1e1e1e" textLength="6.3" lengthAdjust="spacingAndGlyphs">10</text>
<text x="450.70" y="542.50" font-size="4.9" fill="#1e1e1e" color="#1e1e1e">1</text>
<text x="457.90" y="545.60" font-size="7.9" fill="#1e1e1e" color="#1e1e1e" textLength="6.3" lengthAdjust="spacingAndGlyphs">10</text>
<text x="464.30" y="542.50" font-size="4.9" fill="#1e1e1e" color="#1e1e1e">2</text>
<text x="471.80" y="545.60" font-size="7.9" fill="#1e1e1e" color="#1e1e1e" textLength="6.3" lengthAdjust="spacingAndGlyphs">10</text>
<text x="478.20" y="542.50" font-size="4.9" fill="#1e1e1e" color="#1e1e1e">3</text>
<text x="485.70" y="545.60" font-size="7.9" fill="#1e1e1e" color="#1e1e1e" textLength="6.3" lengthAdjust="spacingAndGlyphs">10</text>
<text x="492.10" y="542.50" font-size="4.9" fill="#1e1e1e" color="#1e1e1e">4</text>
<text x="499.20" y="545.60" font-size="7.9" fill="#1e1e1e" color="#1e1e1e" textLength="6.3" lengthAdjust="spacingAndGlyphs">10</text>
<text x="505.60" y="542.50" font-size="4.9" fill="#1e1e1e" color="#1e1e1e">5</text>
<text x="463.60" y="553.60" font-size="8.5" text-anchor="start" fill="#1e1e1e" color="#1e1e1e" textLength="18.20" lengthAdjust="spacingAndGlyphs" >OX40L</text>
<line x1="491.80" y1="551.70" x2="506.10" y2="551.70" stroke="#333" stroke-width="1.0" />
<path d="M505.40,549.90 L509.00,551.70 L505.40,553.50 Z" fill="#111"/>
<text x="436.60" y="513.65" font-size="10.0" text-anchor="middle" fill="#1e1e1e" color="#1e1e1e" textLength="20.30" lengthAdjust="spacingAndGlyphs" transform="rotate(-90 436.60 513.65)" >Count</text>
<line x1="434.40" y1="487.10" x2="434.40" y2="501.10" stroke="#444" stroke-width="1.0" />
<path d="M432.60,487.90 L434.40,484.10 L436.20,487.90 Z" fill="#111"/>
<text x="249.10" y="24.80" font-size="8.6" text-anchor="end" fill="#3a6ea8" color="#3a6ea8" textLength="33.90" lengthAdjust="spacingAndGlyphs" >25D1.16–</text>
<text x="249.10" y="33.30" font-size="8.6" text-anchor="end" fill="#dc3a4c" color="#dc3a4c" textLength="34.40" lengthAdjust="spacingAndGlyphs" >25D1.16+</text>
<text x="507.50" y="24.80" font-size="8.6" text-anchor="end" fill="#3a6ea8" color="#3a6ea8" textLength="33.60" lengthAdjust="spacingAndGlyphs" >25D1.16–</text>
<text x="507.50" y="33.30" font-size="8.6" text-anchor="end" fill="#dc3a4c" color="#dc3a4c" textLength="34.10" lengthAdjust="spacingAndGlyphs" >25D1.16+</text>
<text x="10.60" y="15.90" font-size="12.6" text-anchor="start" fill="#000" color="#000" textLength="9.00" lengthAdjust="spacingAndGlyphs" font-weight="bold" style="stroke-width:0.55px">A</text>
<text x="161.40" y="15.90" font-size="12.6" text-anchor="start" fill="#000" color="#000" textLength="7.60" lengthAdjust="spacingAndGlyphs" font-weight="bold" style="stroke-width:0.55px">B</text>
<text x="282.30" y="15.90" font-size="12.6" text-anchor="start" fill="#000" color="#000" textLength="8.20" lengthAdjust="spacingAndGlyphs" font-weight="bold" style="stroke-width:0.55px">C</text>
<text x="417.40" y="15.90" font-size="12.6" text-anchor="start" fill="#000" color="#000" textLength="8.80" lengthAdjust="spacingAndGlyphs" font-weight="bold" style="stroke-width:0.55px">D</text>
<rect x="0.5" y="0.5" width="519" height="573" fill="none" stroke="#000" stroke-width="1"/>
</svg></body></html>
